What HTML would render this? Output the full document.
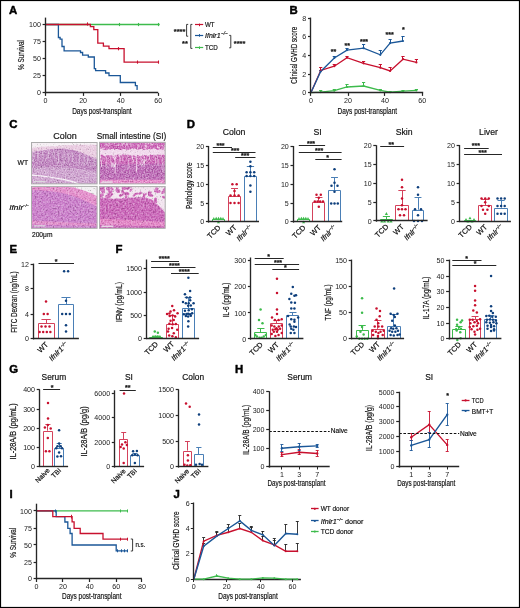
<!DOCTYPE html>
<html><head><meta charset="utf-8"><style>
html,body{margin:0;padding:0;background:#fff;}
svg{display:block;font-family:"Liberation Sans", sans-serif;will-change:transform;}
text{stroke:#111;stroke-width:0.18px;paint-order:stroke;}
text.tk{stroke:none;fill:#222;}
</style></head><body>
<svg width="520" height="608" viewBox="0 0 520 608">
<rect x="0.50" y="0.50" width="519.00" height="607.00" fill="#fff" stroke="#000" stroke-width="1.2" />
<text x="9.00" y="14.30" font-size="11.4" font-weight="bold" fill="#000" style="stroke:#000;stroke-width:0.45px;stroke-linejoin:round">A</text>
<polyline points="45.60,24.52 159.72,24.52" fill="none" stroke="#3dbb4c" stroke-width="1.3" stroke-linejoin="miter" />
<line x1="119.50" y1="22.92" x2="119.50" y2="26.12" stroke="#3dbb4c" stroke-width="1.1" />
<line x1="138.50" y1="22.92" x2="138.50" y2="26.12" stroke="#3dbb4c" stroke-width="1.1" />
<line x1="158.50" y1="22.92" x2="158.50" y2="26.12" stroke="#3dbb4c" stroke-width="1.1" />
<polyline points="45.60,24.52 58.40,24.52 58.40,37.50 60.10,37.50 60.10,39.20 62.00,39.20 62.00,46.50 64.10,46.50 64.10,50.80 80.50,50.80 80.50,52.50 82.60,52.50 82.60,55.10 88.30,55.10 88.30,57.00 94.30,57.00 94.30,68.60 95.60,68.60 95.60,70.70 105.60,70.70 105.60,73.00 109.00,73.00 109.00,75.60 120.30,75.60 120.30,82.50 135.40,82.50 135.40,85.60 137.10,85.60 137.10,89.40 137.60,89.40" fill="none" stroke="#1b5798" stroke-width="1.3" stroke-linejoin="miter" />
<polyline points="45.60,24.52 90.40,24.52 90.40,26.60 93.80,26.60 93.80,29.70 97.80,29.70 97.80,43.20 103.40,43.20 103.40,46.10 109.00,46.10 109.00,48.70 124.10,48.70 124.10,62.10 158.40,62.10" fill="none" stroke="#c8102e" stroke-width="1.3" stroke-linejoin="miter" />
<line x1="87.50" y1="22.40" x2="87.50" y2="25.60" stroke="#c8102e" stroke-width="1.1" />
<line x1="118.50" y1="47.10" x2="118.50" y2="50.30" stroke="#c8102e" stroke-width="1.1" />
<line x1="137.50" y1="60.50" x2="137.50" y2="63.70" stroke="#c8102e" stroke-width="1.1" />
<line x1="158.50" y1="60.50" x2="158.50" y2="63.70" stroke="#c8102e" stroke-width="1.1" />
<line x1="45.50" y1="17.60" x2="45.50" y2="93.27" stroke="#262626" stroke-width="1.35" />
<line x1="42.60" y1="24.50" x2="45.60" y2="24.50" stroke="#262626" stroke-width="1.215" />
<text x="40.90" y="26.76" font-size="7.1" text-anchor="end" fill="#111111" class="tk">100</text>
<line x1="42.60" y1="41.50" x2="45.60" y2="41.50" stroke="#262626" stroke-width="1.215" />
<text x="40.90" y="43.86" font-size="7.1" text-anchor="end" fill="#111111" class="tk">75</text>
<line x1="42.60" y1="58.50" x2="45.60" y2="58.50" stroke="#262626" stroke-width="1.215" />
<text x="40.90" y="60.86" font-size="7.1" text-anchor="end" fill="#111111" class="tk">50</text>
<line x1="42.60" y1="75.50" x2="45.60" y2="75.50" stroke="#262626" stroke-width="1.215" />
<text x="40.90" y="78.16" font-size="7.1" text-anchor="end" fill="#111111" class="tk">25</text>
<line x1="42.60" y1="92.50" x2="45.60" y2="92.50" stroke="#262626" stroke-width="1.215" />
<text x="40.90" y="95.16" font-size="7.1" text-anchor="end" fill="#111111" class="tk">0</text>
<line x1="44.93" y1="92.50" x2="158.20" y2="92.50" stroke="#262626" stroke-width="1.35" />
<line x1="45.50" y1="92.90" x2="45.50" y2="95.90" stroke="#262626" stroke-width="1.215" />
<text x="45.60" y="103.00" font-size="7.1" text-anchor="middle" fill="#111111" class="tk">0</text>
<line x1="83.50" y1="92.90" x2="83.50" y2="95.90" stroke="#262626" stroke-width="1.215" />
<text x="83.10" y="103.00" font-size="7.1" text-anchor="middle" fill="#111111" class="tk">20</text>
<line x1="120.50" y1="92.90" x2="120.50" y2="95.90" stroke="#262626" stroke-width="1.215" />
<text x="120.70" y="103.00" font-size="7.1" text-anchor="middle" fill="#111111" class="tk">40</text>
<line x1="158.50" y1="92.90" x2="158.50" y2="95.90" stroke="#262626" stroke-width="1.215" />
<text x="158.20" y="103.00" font-size="7.1" text-anchor="middle" fill="#111111" class="tk">60</text>
<text x="101.90" y="113.50" font-size="8.6" text-anchor="middle" fill="#111111" textLength="59.5" lengthAdjust="spacingAndGlyphs">Days post-transplant</text>
<text x="24.20" y="55.00" font-size="9.243" text-anchor="middle" fill="#111111" textLength="30" lengthAdjust="spacingAndGlyphs" transform="rotate(-90 24.20 55.00)">% Survival</text>
<text x="179.60" y="33.80" font-size="7.4" text-anchor="middle" fill="#111111" font-weight="bold">****</text>
<text x="185.00" y="45.60" font-size="7.4" text-anchor="middle" fill="#111111" font-weight="bold">**</text>
<polyline points="188.20,24.40 186.60,24.40 186.60,36.20 188.20,36.20" fill="none" stroke="#262626" stroke-width="0.9" stroke-linejoin="miter" />
<polyline points="192.40,24.40 190.80,24.40 190.80,48.40 192.40,48.40" fill="none" stroke="#262626" stroke-width="0.9" stroke-linejoin="miter" />
<polyline points="229.20,35.40 230.80,35.40 230.80,47.80 229.20,47.80" fill="none" stroke="#262626" stroke-width="0.9" stroke-linejoin="miter" />
<text x="239.60" y="46.10" font-size="7.4" text-anchor="middle" fill="#111111" font-weight="bold">****</text>
<line x1="195.00" y1="24.50" x2="203.20" y2="24.50" stroke="#c8102e" stroke-width="1.2" />
<line x1="199.50" y1="23.60" x2="199.50" y2="26.20" stroke="#c8102e" stroke-width="1.0" />
<line x1="195.00" y1="35.50" x2="203.20" y2="35.50" stroke="#1b5798" stroke-width="1.2" />
<line x1="199.50" y1="34.10" x2="199.50" y2="36.70" stroke="#1b5798" stroke-width="1.0" />
<line x1="195.00" y1="47.50" x2="203.20" y2="47.50" stroke="#3dbb4c" stroke-width="1.2" />
<line x1="199.50" y1="46.40" x2="199.50" y2="49.00" stroke="#3dbb4c" stroke-width="1.0" />
<text x="205.00" y="27.40" font-size="7.2" text-anchor="start" fill="#111111" textLength="9.6" lengthAdjust="spacingAndGlyphs">WT</text>
<text x="205.00" y="37.90" font-size="7.2" text-anchor="start" fill="#111111" font-style="italic" textLength="15.6" lengthAdjust="spacingAndGlyphs">Ifnlr1</text>
<text x="221.20" y="34.60" font-size="4.6" text-anchor="start" fill="#111111" font-style="italic">−/−</text>
<text x="205.00" y="50.20" font-size="7.2" text-anchor="start" fill="#111111" textLength="12.8" lengthAdjust="spacingAndGlyphs">TCD</text>
<text x="289.60" y="14.30" font-size="11.4" font-weight="bold" fill="#000" style="stroke:#000;stroke-width:0.45px;stroke-linejoin:round">B</text>
<line x1="320.50" y1="92.10" x2="320.50" y2="91.00" stroke="#3dbb4c" stroke-width="1.0" />
<line x1="319.10" y1="90.50" x2="322.30" y2="90.50" stroke="#3dbb4c" stroke-width="1.0" />
<line x1="334.50" y1="90.70" x2="334.50" y2="89.30" stroke="#3dbb4c" stroke-width="1.0" />
<line x1="332.70" y1="89.50" x2="335.90" y2="89.50" stroke="#3dbb4c" stroke-width="1.0" />
<line x1="346.50" y1="87.00" x2="346.50" y2="84.80" stroke="#3dbb4c" stroke-width="1.0" />
<line x1="345.40" y1="84.50" x2="348.60" y2="84.50" stroke="#3dbb4c" stroke-width="1.0" />
<line x1="363.50" y1="86.00" x2="363.50" y2="82.80" stroke="#3dbb4c" stroke-width="1.0" />
<line x1="362.00" y1="82.50" x2="365.20" y2="82.50" stroke="#3dbb4c" stroke-width="1.0" />
<line x1="380.50" y1="90.40" x2="380.50" y2="89.20" stroke="#3dbb4c" stroke-width="1.0" />
<line x1="378.70" y1="89.50" x2="381.90" y2="89.50" stroke="#3dbb4c" stroke-width="1.0" />
<line x1="390.50" y1="92.20" x2="390.50" y2="91.80" stroke="#3dbb4c" stroke-width="1.0" />
<line x1="388.50" y1="91.50" x2="391.70" y2="91.50" stroke="#3dbb4c" stroke-width="1.0" />
<line x1="402.50" y1="91.10" x2="402.50" y2="90.00" stroke="#3dbb4c" stroke-width="1.0" />
<line x1="401.40" y1="90.50" x2="404.60" y2="90.50" stroke="#3dbb4c" stroke-width="1.0" />
<line x1="416.50" y1="90.40" x2="416.50" y2="89.30" stroke="#3dbb4c" stroke-width="1.0" />
<line x1="414.80" y1="89.50" x2="418.00" y2="89.50" stroke="#3dbb4c" stroke-width="1.0" />
<line x1="320.50" y1="70.50" x2="320.50" y2="67.20" stroke="#c8102e" stroke-width="1.0" />
<line x1="319.10" y1="67.50" x2="322.30" y2="67.50" stroke="#c8102e" stroke-width="1.0" />
<line x1="334.50" y1="66.20" x2="334.50" y2="64.50" stroke="#c8102e" stroke-width="1.0" />
<line x1="332.70" y1="64.50" x2="335.90" y2="64.50" stroke="#c8102e" stroke-width="1.0" />
<line x1="346.50" y1="57.70" x2="346.50" y2="56.00" stroke="#c8102e" stroke-width="1.0" />
<line x1="345.40" y1="56.50" x2="348.60" y2="56.50" stroke="#c8102e" stroke-width="1.0" />
<line x1="363.50" y1="63.30" x2="363.50" y2="61.40" stroke="#c8102e" stroke-width="1.0" />
<line x1="362.00" y1="61.50" x2="365.20" y2="61.50" stroke="#c8102e" stroke-width="1.0" />
<line x1="380.50" y1="67.70" x2="380.50" y2="64.30" stroke="#c8102e" stroke-width="1.0" />
<line x1="378.70" y1="64.50" x2="381.90" y2="64.50" stroke="#c8102e" stroke-width="1.0" />
<line x1="390.50" y1="70.90" x2="390.50" y2="67.10" stroke="#c8102e" stroke-width="1.0" />
<line x1="388.50" y1="67.50" x2="391.70" y2="67.50" stroke="#c8102e" stroke-width="1.0" />
<line x1="402.50" y1="59.20" x2="402.50" y2="56.70" stroke="#c8102e" stroke-width="1.0" />
<line x1="401.40" y1="56.50" x2="404.60" y2="56.50" stroke="#c8102e" stroke-width="1.0" />
<line x1="416.50" y1="62.40" x2="416.50" y2="59.20" stroke="#c8102e" stroke-width="1.0" />
<line x1="414.80" y1="59.50" x2="418.00" y2="59.50" stroke="#c8102e" stroke-width="1.0" />
<line x1="320.50" y1="71.50" x2="320.50" y2="70.00" stroke="#1b5798" stroke-width="1.0" />
<line x1="319.10" y1="70.50" x2="322.30" y2="70.50" stroke="#1b5798" stroke-width="1.0" />
<line x1="334.50" y1="58.00" x2="334.50" y2="56.30" stroke="#1b5798" stroke-width="1.0" />
<line x1="332.70" y1="56.50" x2="335.90" y2="56.50" stroke="#1b5798" stroke-width="1.0" />
<line x1="346.50" y1="50.10" x2="346.50" y2="48.20" stroke="#1b5798" stroke-width="1.0" />
<line x1="345.40" y1="48.50" x2="348.60" y2="48.50" stroke="#1b5798" stroke-width="1.0" />
<line x1="363.50" y1="48.20" x2="363.50" y2="44.80" stroke="#1b5798" stroke-width="1.0" />
<line x1="362.00" y1="44.50" x2="365.20" y2="44.50" stroke="#1b5798" stroke-width="1.0" />
<line x1="380.50" y1="54.80" x2="380.50" y2="50.10" stroke="#1b5798" stroke-width="1.0" />
<line x1="378.70" y1="50.50" x2="381.90" y2="50.50" stroke="#1b5798" stroke-width="1.0" />
<line x1="390.50" y1="43.10" x2="390.50" y2="39.70" stroke="#1b5798" stroke-width="1.0" />
<line x1="388.50" y1="39.50" x2="391.70" y2="39.50" stroke="#1b5798" stroke-width="1.0" />
<line x1="402.50" y1="41.00" x2="402.50" y2="36.30" stroke="#1b5798" stroke-width="1.0" />
<line x1="401.40" y1="36.50" x2="404.60" y2="36.50" stroke="#1b5798" stroke-width="1.0" />
<polyline points="311.00,92.60 320.70,92.10 334.30,90.70 347.00,87.00 363.60,86.00 380.30,90.40 390.10,92.20 403.00,91.10 416.40,90.40" fill="none" stroke="#3dbb4c" stroke-width="1.3" stroke-linejoin="miter" />
<polyline points="311.00,92.60 320.70,70.50 334.30,66.20 347.00,57.70 363.60,63.30 380.30,67.70 390.10,70.90 403.00,59.20 416.40,62.40" fill="none" stroke="#c8102e" stroke-width="1.3" stroke-linejoin="miter" />
<polyline points="311.00,92.60 320.70,71.50 334.30,58.00 347.00,50.10 363.60,48.20 380.30,54.80 390.10,43.10 403.00,41.00" fill="none" stroke="#1b5798" stroke-width="1.3" stroke-linejoin="miter" />
<circle cx="320.70" cy="92.10" r="1.1" fill="#3dbb4c"/>
<circle cx="334.30" cy="90.70" r="1.1" fill="#3dbb4c"/>
<circle cx="347.00" cy="87.00" r="1.1" fill="#3dbb4c"/>
<circle cx="363.60" cy="86.00" r="1.1" fill="#3dbb4c"/>
<circle cx="380.30" cy="90.40" r="1.1" fill="#3dbb4c"/>
<circle cx="390.10" cy="92.20" r="1.1" fill="#3dbb4c"/>
<circle cx="403.00" cy="91.10" r="1.1" fill="#3dbb4c"/>
<circle cx="416.40" cy="90.40" r="1.1" fill="#3dbb4c"/>
<circle cx="320.70" cy="70.50" r="1.1" fill="#c8102e"/>
<circle cx="334.30" cy="66.20" r="1.1" fill="#c8102e"/>
<circle cx="347.00" cy="57.70" r="1.1" fill="#c8102e"/>
<circle cx="363.60" cy="63.30" r="1.1" fill="#c8102e"/>
<circle cx="380.30" cy="67.70" r="1.1" fill="#c8102e"/>
<circle cx="390.10" cy="70.90" r="1.1" fill="#c8102e"/>
<circle cx="403.00" cy="59.20" r="1.1" fill="#c8102e"/>
<circle cx="416.40" cy="62.40" r="1.1" fill="#c8102e"/>
<circle cx="320.70" cy="71.50" r="1.1" fill="#1b5798"/>
<circle cx="334.30" cy="58.00" r="1.1" fill="#1b5798"/>
<circle cx="347.00" cy="50.10" r="1.1" fill="#1b5798"/>
<circle cx="363.60" cy="48.20" r="1.1" fill="#1b5798"/>
<circle cx="380.30" cy="54.80" r="1.1" fill="#1b5798"/>
<circle cx="390.10" cy="43.10" r="1.1" fill="#1b5798"/>
<circle cx="403.00" cy="41.00" r="1.1" fill="#1b5798"/>
<line x1="310.50" y1="17.60" x2="310.50" y2="93.27" stroke="#262626" stroke-width="1.35" />
<line x1="308.00" y1="18.50" x2="311.00" y2="18.50" stroke="#262626" stroke-width="1.215" />
<text x="306.30" y="20.56" font-size="7.1" text-anchor="end" fill="#111111" class="tk">8</text>
<line x1="308.00" y1="36.50" x2="311.00" y2="36.50" stroke="#262626" stroke-width="1.215" />
<text x="306.30" y="39.16" font-size="7.1" text-anchor="end" fill="#111111" class="tk">6</text>
<line x1="308.00" y1="55.50" x2="311.00" y2="55.50" stroke="#262626" stroke-width="1.215" />
<text x="306.30" y="57.96" font-size="7.1" text-anchor="end" fill="#111111" class="tk">4</text>
<line x1="308.00" y1="74.50" x2="311.00" y2="74.50" stroke="#262626" stroke-width="1.215" />
<text x="306.30" y="76.66" font-size="7.1" text-anchor="end" fill="#111111" class="tk">2</text>
<line x1="308.00" y1="92.50" x2="311.00" y2="92.50" stroke="#262626" stroke-width="1.215" />
<text x="306.30" y="95.16" font-size="7.1" text-anchor="end" fill="#111111" class="tk">0</text>
<line x1="310.32" y1="92.50" x2="423.20" y2="92.50" stroke="#262626" stroke-width="1.35" />
<line x1="310.50" y1="92.90" x2="310.50" y2="95.90" stroke="#262626" stroke-width="1.215" />
<text x="311.00" y="103.00" font-size="7.1" text-anchor="middle" fill="#111111" class="tk">0</text>
<line x1="348.50" y1="92.90" x2="348.50" y2="95.90" stroke="#262626" stroke-width="1.215" />
<text x="348.00" y="103.00" font-size="7.1" text-anchor="middle" fill="#111111" class="tk">20</text>
<line x1="384.50" y1="92.90" x2="384.50" y2="95.90" stroke="#262626" stroke-width="1.215" />
<text x="385.00" y="103.00" font-size="7.1" text-anchor="middle" fill="#111111" class="tk">40</text>
<line x1="422.50" y1="92.90" x2="422.50" y2="95.90" stroke="#262626" stroke-width="1.215" />
<text x="422.20" y="103.00" font-size="7.1" text-anchor="middle" fill="#111111" class="tk">60</text>
<text x="367.30" y="113.50" font-size="8.6" text-anchor="middle" fill="#111111" textLength="59.5" lengthAdjust="spacingAndGlyphs">Days post-transplant</text>
<text x="297.00" y="55.30" font-size="9.594" text-anchor="middle" fill="#111111" textLength="57" lengthAdjust="spacingAndGlyphs" transform="rotate(-90 297.00 55.30)">Clinical GVHD score</text>
<text x="333.60" y="54.20" font-size="7.0" text-anchor="middle" fill="#111111" font-weight="bold">**</text>
<text x="347.20" y="47.60" font-size="7.0" text-anchor="middle" fill="#111111" font-weight="bold">**</text>
<text x="364.00" y="43.70" font-size="7.0" text-anchor="middle" fill="#111111" font-weight="bold">***</text>
<text x="389.70" y="37.40" font-size="7.0" text-anchor="middle" fill="#111111" font-weight="bold">***</text>
<text x="403.30" y="32.40" font-size="7.0" text-anchor="middle" fill="#111111" font-weight="bold">*</text>
<text x="9.20" y="128.10" font-size="11.4" font-weight="bold" fill="#000" style="stroke:#000;stroke-width:0.45px;stroke-linejoin:round">C</text>
<text x="65.00" y="139.20" font-size="9.2" text-anchor="middle" fill="#111111" textLength="23.5" lengthAdjust="spacingAndGlyphs">Colon</text>
<text x="131.50" y="139.20" font-size="9.2" text-anchor="middle" fill="#111111" textLength="69.5" lengthAdjust="spacingAndGlyphs">Small intestine (SI)</text>
<text x="28.20" y="165.00" font-size="7.2" text-anchor="end" fill="#111111" textLength="10.6" lengthAdjust="spacingAndGlyphs">WT</text>
<text x="23.20" y="209.80" font-size="7.2" text-anchor="end" fill="#111111" font-style="italic" textLength="14" lengthAdjust="spacingAndGlyphs">Ifnlr</text>
<text x="23.00" y="206.60" font-size="4.2" text-anchor="start" fill="#111111" font-style="italic">−/−</text>
<text x="32.00" y="237.20" font-size="7.2" text-anchor="start" fill="#111111" textLength="20.4" lengthAdjust="spacingAndGlyphs">200μm</text>
<defs>
<filter id="tx1" x="0" y="0" width="100%" height="100%" color-interpolation-filters="sRGB">
<feTurbulence type="fractalNoise" baseFrequency="0.75" numOctaves="2" seed="3" result="t"/>
<feColorMatrix in="t" type="matrix" values="0.55 0 0 0 0.3  0.55 0 0 0 0.3  0.55 0 0 0 0.3  0 0 0 0 1" result="n"/>
<feBlend in="SourceGraphic" in2="n" mode="overlay" result="b"/>
<feComposite in="b" in2="SourceGraphic" operator="in"/>
</filter>
<filter id="tx2" x="0" y="0" width="100%" height="100%" color-interpolation-filters="sRGB">
<feTurbulence type="fractalNoise" baseFrequency="0.6" numOctaves="2" seed="9" result="t"/>
<feColorMatrix in="t" type="matrix" values="0.5 0 0 0 0.3  0.5 0 0 0 0.3  0.5 0 0 0 0.3  0 0 0 0 1" result="n"/>
<feBlend in="SourceGraphic" in2="n" mode="overlay" result="b"/>
<feComposite in="b" in2="SourceGraphic" operator="in"/>
</filter>
<clipPath id="c1"><rect x="31.5" y="142.5" width="65.6" height="41.4"/></clipPath>
<clipPath id="c2"><rect x="31.5" y="186.4" width="65.6" height="41.9"/></clipPath>
<clipPath id="c3"><rect x="99.5" y="142.3" width="65.7" height="41.6"/></clipPath>
<clipPath id="c4"><rect x="99.5" y="186.6" width="65.7" height="41.7"/></clipPath>
</defs>
<g clip-path="url(#c1)"><g filter="url(#tx1)">
<rect x="31.00" y="142.00" width="67.00" height="43.00" fill="#c898c9" stroke="none" stroke-width="1.0" />
<path d="M31,152 C40,151 50,149 60,148.5 C70,148.5 78,151 86,154.5 C91,156.5 95,158 98,159 V172 C80,168 60,166 31,168 Z" fill="#b878b8"/>
<path d="M31,142 H98 V159 C95,158 91,156.5 86,154.5 C78,151 70,148.5 60,148.5 C50,149 40,151 31,152 Z" fill="#e6c5dd"/>
<path d="M31,142 H98 V145 C85,144.5 70,145 55,146 C45,146.5 38,147 31,148 Z" fill="#f3ecf1"/>
<path d="M33.6,150.9 L32.9,162.2" stroke="#eedcee" stroke-width="0.7" opacity="0.7"/>
<path d="M38.0,150.7 L38.0,160.5" stroke="#eedcee" stroke-width="0.7" opacity="0.7"/>
<path d="M42.9,150.4 L43.0,158.6" stroke="#eedcee" stroke-width="0.7" opacity="0.7"/>
<path d="M48.8,150.3 L48.0,158.7" stroke="#eedcee" stroke-width="0.7" opacity="0.7"/>
<path d="M53.8,150.3 L54.5,158.9" stroke="#eedcee" stroke-width="0.7" opacity="0.7"/>
<path d="M58.3,150.5 L58.6,163.2" stroke="#eedcee" stroke-width="0.7" opacity="0.7"/>
<path d="M64.2,150.9 L64.0,163.8" stroke="#eedcee" stroke-width="0.7" opacity="0.7"/>
<path d="M67.9,151.3 L68.6,160.8" stroke="#eedcee" stroke-width="0.7" opacity="0.7"/>
<path d="M73.1,152.1 L72.4,161.6" stroke="#eedcee" stroke-width="0.7" opacity="0.7"/>
<path d="M79.8,153.3 L79.1,164.3" stroke="#eedcee" stroke-width="0.7" opacity="0.7"/>
<path d="M84.3,154.4 L84.1,165.1" stroke="#eedcee" stroke-width="0.7" opacity="0.7"/>
<path d="M88.0,155.2 L87.1,164.3" stroke="#eedcee" stroke-width="0.7" opacity="0.7"/>
<path d="M94.4,156.9 L94.3,166.4" stroke="#eedcee" stroke-width="0.7" opacity="0.7"/>
<path d="M31,175.2 C45,176.2 60,178.2 74,182.2 L80,184.5" fill="none" stroke="#f6eef6" stroke-width="1.3"/>
</g>
<rect x="33.50" y="181.00" width="12.00" height="1.30" fill="#dcd6de" stroke="none" stroke-width="1.0" />
</g>
<rect x="31.50" y="142.50" width="65.60" height="41.40" fill="none" stroke="#acacac" stroke-width="1" />
<g clip-path="url(#c2)"><g filter="url(#tx2)">
<rect x="31.00" y="186.00" width="67.00" height="43.00" fill="#c676c6" stroke="none" stroke-width="1.0" />
<path d="M31,186 H98 V207 C90,203 80,198 70,195 C60,192 48,190.5 31,190 Z" fill="#e288c8"/>
<path d="M69,186 H98 V196.5 C90,192.5 80,188.5 69,186 Z" fill="#f1eef1"/>
<path d="M31,220.5 C50,221.5 70,222.5 98,223.5 V226 C70,225.5 50,225 31,224.5 Z" fill="#dc86c6"/>
</g>
<rect x="33.50" y="225.20" width="12.00" height="1.30" fill="#dcd6de" stroke="none" stroke-width="1.0" />
</g>
<rect x="31.50" y="186.40" width="65.60" height="41.90" fill="none" stroke="#acacac" stroke-width="1" />
<g clip-path="url(#c3)"><g filter="url(#tx1)">
<rect x="99.00" y="142.00" width="67.00" height="43.00" fill="#c456ae" stroke="none" stroke-width="1.0" />
<path d="M99,164 C120,165 145,163 166,164 V181 H99 Z" fill="#b55cae"/>
<ellipse cx="138.2" cy="145.2" rx="0.8" ry="0.9" fill="#eab8de"/>
<ellipse cx="145.8" cy="143.7" rx="1.0" ry="0.8" fill="#eab8de"/>
<ellipse cx="157.6" cy="147.1" rx="0.8" ry="1.0" fill="#eab8de"/>
<ellipse cx="106.9" cy="144.9" rx="1.1" ry="0.6" fill="#eab8de"/>
<ellipse cx="131.8" cy="142.3" rx="1.1" ry="0.9" fill="#eab8de"/>
<ellipse cx="137.4" cy="148.1" rx="0.8" ry="0.8" fill="#eab8de"/>
<ellipse cx="138.8" cy="146.1" rx="0.9" ry="0.9" fill="#eab8de"/>
<ellipse cx="162.3" cy="145.3" rx="1.1" ry="0.5" fill="#eab8de"/>
<ellipse cx="146.0" cy="146.5" rx="1.3" ry="0.9" fill="#eab8de"/>
<ellipse cx="118.1" cy="144.7" rx="1.1" ry="0.5" fill="#eab8de"/>
<ellipse cx="129.9" cy="143.2" rx="0.7" ry="0.5" fill="#eab8de"/>
<ellipse cx="150.5" cy="142.9" rx="0.8" ry="0.7" fill="#eab8de"/>
<ellipse cx="157.4" cy="142.6" rx="0.9" ry="0.8" fill="#eab8de"/>
<ellipse cx="158.2" cy="147.7" rx="1.2" ry="0.6" fill="#eab8de"/>
<ellipse cx="126.8" cy="144.5" rx="1.2" ry="1.0" fill="#eab8de"/>
<ellipse cx="109.1" cy="143.2" rx="0.8" ry="0.6" fill="#eab8de"/>
<ellipse cx="131.5" cy="146.1" rx="0.8" ry="0.5" fill="#eab8de"/>
<ellipse cx="127.1" cy="144.6" rx="1.0" ry="1.0" fill="#eab8de"/>
<ellipse cx="145.3" cy="145.6" rx="1.0" ry="0.8" fill="#eab8de"/>
<ellipse cx="102.6" cy="148.3" rx="1.1" ry="0.9" fill="#eab8de"/>
<ellipse cx="152.5" cy="144.7" rx="0.9" ry="0.6" fill="#eab8de"/>
<ellipse cx="141.5" cy="142.4" rx="0.6" ry="0.6" fill="#eab8de"/>
<ellipse cx="109.9" cy="144.4" rx="0.6" ry="0.5" fill="#eab8de"/>
<ellipse cx="109.1" cy="142.7" rx="0.9" ry="0.5" fill="#eab8de"/>
<ellipse cx="157.6" cy="146.3" rx="0.7" ry="0.6" fill="#eab8de"/>
<ellipse cx="122.3" cy="144.5" rx="0.7" ry="0.9" fill="#eab8de"/>
<ellipse cx="165.5" cy="145.3" rx="0.9" ry="0.5" fill="#eab8de"/>
<ellipse cx="105.8" cy="144.4" rx="0.8" ry="0.9" fill="#eab8de"/>
<ellipse cx="109.8" cy="142.2" rx="1.3" ry="0.8" fill="#eab8de"/>
<ellipse cx="108.8" cy="145.8" rx="0.6" ry="0.8" fill="#eab8de"/>
<ellipse cx="164.6" cy="148.0" rx="1.1" ry="0.6" fill="#eab8de"/>
<ellipse cx="123.6" cy="143.2" rx="1.1" ry="0.8" fill="#eab8de"/>
<ellipse cx="151.2" cy="144.3" rx="0.8" ry="0.9" fill="#eab8de"/>
<ellipse cx="165.0" cy="148.0" rx="1.2" ry="0.9" fill="#eab8de"/>
<ellipse cx="148.6" cy="143.6" rx="1.0" ry="0.7" fill="#eab8de"/>
<ellipse cx="100.9" cy="142.2" rx="0.8" ry="0.6" fill="#eab8de"/>
<ellipse cx="145.4" cy="148.7" rx="0.9" ry="1.0" fill="#eab8de"/>
<ellipse cx="165.2" cy="148.7" rx="0.9" ry="0.6" fill="#eab8de"/>
<ellipse cx="114.2" cy="143.4" rx="0.7" ry="0.8" fill="#eab8de"/>
<ellipse cx="159.3" cy="147.9" rx="0.9" ry="0.8" fill="#eab8de"/>
<path d="M99.0,149.7 L101.0,148.5 L103.0,149.5 L105.0,149.9 L107.0,149.7 L109.0,149.6 L111.0,149.2 L113.0,148.7 L115.0,149.7 L117.0,148.9 L119.0,149.7 L121.0,150.0 L123.0,149.0 L125.0,149.0 L127.0,149.9 L129.0,149.6 L131.0,148.7 L133.0,148.6 L135.0,148.6 L137.0,149.8 L139.0,149.7 L141.0,148.6 L143.0,149.7 L145.0,150.0 L147.0,149.5 L149.0,149.0 L151.0,149.3 L153.0,148.6 L155.0,148.4 L157.0,150.0 L159.0,149.4 L161.0,149.2 L163.0,149.9 L165.0,149.1 L167.0,149.8 L166.0,156.0 L164.0,154.7 L162.0,154.8 L160.0,154.8 L158.0,154.7 L156.0,155.5 L154.0,154.8 L152.0,155.1 L150.0,154.5 L148.0,156.2 L146.0,155.0 L144.0,155.2 L142.0,155.5 L140.0,156.2 L138.0,155.1 L136.0,156.2 L134.0,155.3 L132.0,155.4 L130.0,155.4 L128.0,154.2 L126.0,155.2 L124.0,154.6 L122.0,154.2 L120.0,156.0 L118.0,154.6 L116.0,155.2 L114.0,155.8 L112.0,155.4 L110.0,154.9 L108.0,155.3 L106.0,155.4 L104.0,155.9 L102.0,154.4 L100.0,155.4 L98.0,154.7 Z" fill="#efd4ea"/>
<path d="M99.9,155 L101.1,159.2 L101.6,167.1" fill="none" stroke="#f2dcee" stroke-width="0.9" opacity="0.85"/>
<path d="M105.5,155 L106.7,159.0 L106.7,168.6" fill="none" stroke="#f2dcee" stroke-width="0.7" opacity="0.85"/>
<path d="M109.5,155 L110.7,158.9 L111.6,167.5" fill="none" stroke="#f2dcee" stroke-width="0.7" opacity="0.85"/>
<path d="M113.9,155 L115.1,158.3 L115.2,173.2" fill="none" stroke="#f2dcee" stroke-width="0.9" opacity="0.85"/>
<path d="M118.8,155 L120.0,157.9 L119.9,161.9" fill="none" stroke="#f2dcee" stroke-width="0.9" opacity="0.85"/>
<path d="M121.4,155 L122.6,159.5 L123.2,161.0" fill="none" stroke="#f2dcee" stroke-width="0.6" opacity="0.85"/>
<path d="M127.5,155 L128.7,159.5 L128.0,170.0" fill="none" stroke="#f2dcee" stroke-width="0.6" opacity="0.85"/>
<path d="M131.9,155 L133.1,160.4 L132.9,163.1" fill="none" stroke="#f2dcee" stroke-width="1.0" opacity="0.85"/>
<path d="M135.5,155 L136.7,158.0 L136.5,171.7" fill="none" stroke="#f2dcee" stroke-width="1.0" opacity="0.85"/>
<path d="M139.9,155 L141.1,158.5 L141.6,162.7" fill="none" stroke="#f2dcee" stroke-width="0.7" opacity="0.85"/>
<path d="M143.3,155 L144.5,157.6 L144.2,166.2" fill="none" stroke="#f2dcee" stroke-width="0.8" opacity="0.85"/>
<path d="M148.9,155 L150.1,160.5 L150.7,160.9" fill="none" stroke="#f2dcee" stroke-width="0.8" opacity="0.85"/>
<path d="M154.0,155 L155.2,157.6 L155.8,163.7" fill="none" stroke="#f2dcee" stroke-width="0.6" opacity="0.85"/>
<path d="M157.0,155 L158.2,160.2 L158.9,165.9" fill="none" stroke="#f2dcee" stroke-width="0.6" opacity="0.85"/>
<path d="M161.4,155 L162.6,159.2 L163.0,172.9" fill="none" stroke="#f2dcee" stroke-width="0.6" opacity="0.85"/>
<path d="M112.5,155.5 L114.5,159.5 L116.5,155.5" fill="none" stroke="#f6eaf4" stroke-width="0.8"/>
<path d="M142.4,158.8 L144.4,162.8 L146.4,158.8" fill="none" stroke="#f6eaf4" stroke-width="0.8"/>
<path d="M111.6,163.4 L113.6,167.4 L115.6,163.4" fill="none" stroke="#f6eaf4" stroke-width="0.8"/>
<path d="M139.7,162.2 L141.7,166.2 L143.7,162.2" fill="none" stroke="#f6eaf4" stroke-width="0.8"/>
<path d="M112.2,162.7 L114.2,166.7 L116.2,162.7" fill="none" stroke="#f6eaf4" stroke-width="0.8"/>
<path d="M99,179.7 H166 V185 H99 Z" fill="#e27cc4"/>
</g>
<rect x="101.80" y="181.40" width="10.70" height="1.40" fill="#e8dfe8" stroke="none" stroke-width="1.0" />
</g>
<rect x="99.50" y="142.30" width="65.70" height="41.60" fill="none" stroke="#acacac" stroke-width="1" />
<g clip-path="url(#c4)"><g filter="url(#tx2)">
<rect x="99.00" y="186.00" width="67.00" height="43.00" fill="#c65eb4" stroke="none" stroke-width="1.0" />
<path d="M99,186 H166 V214 C161,207 155,201 147,198 C138,196 128,198 118,198.5 C110,199 104,198 99,197 Z" fill="#f1e2ee"/>
<ellipse cx="100.5" cy="195.5" rx="2.0" ry="1.2" fill="#c960b4" transform="rotate(5 100.5 195.5)"/>
<ellipse cx="159.2" cy="191.5" rx="1.5" ry="1.3" fill="#c960b4" transform="rotate(-26 159.2 191.5)"/>
<ellipse cx="102.0" cy="187.8" rx="1.4" ry="1.1" fill="#c960b4" transform="rotate(-19 102.0 187.8)"/>
<ellipse cx="111.7" cy="194.4" rx="1.7" ry="1.3" fill="#c960b4" transform="rotate(-32 111.7 194.4)"/>
<ellipse cx="114.2" cy="186.2" rx="1.7" ry="0.9" fill="#c960b4" transform="rotate(23 114.2 186.2)"/>
<ellipse cx="128.1" cy="188.1" rx="2.0" ry="1.6" fill="#c960b4" transform="rotate(-39 128.1 188.1)"/>
<ellipse cx="149.7" cy="192.8" rx="2.0" ry="1.6" fill="#c960b4" transform="rotate(-11 149.7 192.8)"/>
<ellipse cx="124.9" cy="193.6" rx="2.8" ry="1.2" fill="#c960b4" transform="rotate(33 124.9 193.6)"/>
<ellipse cx="140.2" cy="193.1" rx="1.9" ry="1.2" fill="#c960b4" transform="rotate(-45 140.2 193.1)"/>
<ellipse cx="102.8" cy="186.8" rx="2.4" ry="1.1" fill="#c960b4" transform="rotate(-34 102.8 186.8)"/>
<ellipse cx="101.1" cy="195.3" rx="2.6" ry="1.4" fill="#c960b4" transform="rotate(-22 101.1 195.3)"/>
<ellipse cx="108.2" cy="189.2" rx="2.0" ry="1.0" fill="#c960b4" transform="rotate(-5 108.2 189.2)"/>
<ellipse cx="109.3" cy="196.6" rx="2.8" ry="1.3" fill="#c960b4" transform="rotate(-26 109.3 196.6)"/>
<ellipse cx="162.8" cy="192.9" rx="1.8" ry="0.9" fill="#c960b4" transform="rotate(-12 162.8 192.9)"/>
<ellipse cx="122.6" cy="191.5" rx="1.6" ry="1.3" fill="#c960b4" transform="rotate(-50 122.6 191.5)"/>
<ellipse cx="109.4" cy="187.0" rx="1.9" ry="0.9" fill="#c960b4" transform="rotate(-48 109.4 187.0)"/>
<ellipse cx="111.7" cy="188.6" rx="2.2" ry="1.3" fill="#c960b4" transform="rotate(25 111.7 188.6)"/>
<ellipse cx="136.3" cy="193.9" rx="2.6" ry="1.2" fill="#c960b4" transform="rotate(-17 136.3 193.9)"/>
<ellipse cx="164.6" cy="189.5" rx="2.4" ry="1.4" fill="#c960b4" transform="rotate(-46 164.6 189.5)"/>
<ellipse cx="151.1" cy="200.8" rx="2.2" ry="1.5" fill="#c960b4" transform="rotate(31 151.1 200.8)"/>
<ellipse cx="103.2" cy="191.8" rx="2.1" ry="1.6" fill="#c960b4" transform="rotate(30 103.2 191.8)"/>
<ellipse cx="150.3" cy="195.4" rx="2.6" ry="1.4" fill="#c960b4" transform="rotate(19 150.3 195.4)"/>
<ellipse cx="107.6" cy="186.3" rx="1.5" ry="1.2" fill="#c960b4" transform="rotate(-40 107.6 186.3)"/>
<ellipse cx="151.1" cy="195.3" rx="2.2" ry="1.4" fill="#c960b4" transform="rotate(18 151.1 195.3)"/>
<ellipse cx="123.6" cy="186.0" rx="2.5" ry="1.5" fill="#c960b4" transform="rotate(0 123.6 186.0)"/>
<ellipse cx="126.9" cy="193.3" rx="1.4" ry="1.5" fill="#c960b4" transform="rotate(-25 126.9 193.3)"/>
<ellipse cx="100.8" cy="188.9" rx="2.4" ry="1.1" fill="#c960b4" transform="rotate(24 100.8 188.9)"/>
<ellipse cx="163.7" cy="197.3" rx="1.9" ry="1.3" fill="#c960b4" transform="rotate(18 163.7 197.3)"/>
<ellipse cx="145.2" cy="194.4" rx="2.3" ry="1.0" fill="#c960b4" transform="rotate(-35 145.2 194.4)"/>
<ellipse cx="108.8" cy="194.2" rx="1.8" ry="1.4" fill="#c960b4" transform="rotate(-49 108.8 194.2)"/>
<ellipse cx="100.3" cy="189.0" rx="2.3" ry="1.5" fill="#c960b4" transform="rotate(18 100.3 189.0)"/>
<ellipse cx="110.9" cy="191.7" rx="2.0" ry="1.3" fill="#c960b4" transform="rotate(-38 110.9 191.7)"/>
<ellipse cx="156.2" cy="189.8" rx="2.8" ry="1.6" fill="#c960b4" transform="rotate(-48 156.2 189.8)"/>
<ellipse cx="121.5" cy="195.0" rx="2.8" ry="1.3" fill="#c960b4" transform="rotate(-23 121.5 195.0)"/>
<ellipse cx="106.5" cy="196.4" rx="1.6" ry="1.4" fill="#c960b4" transform="rotate(-36 106.5 196.4)"/>
<ellipse cx="126.1" cy="196.5" rx="1.5" ry="1.6" fill="#c960b4" transform="rotate(1 126.1 196.5)"/>
<ellipse cx="155.6" cy="199.2" rx="1.6" ry="1.6" fill="#c960b4" transform="rotate(-1 155.6 199.2)"/>
<ellipse cx="99.4" cy="186.0" rx="2.0" ry="1.3" fill="#c960b4" transform="rotate(-20 99.4 186.0)"/>
<ellipse cx="103.3" cy="189.8" rx="1.8" ry="1.6" fill="#c960b4" transform="rotate(-50 103.3 189.8)"/>
<ellipse cx="143.8" cy="196.8" rx="1.5" ry="1.6" fill="#c960b4" transform="rotate(21 143.8 196.8)"/>
<ellipse cx="157.0" cy="191.6" rx="1.9" ry="1.2" fill="#c960b4" transform="rotate(50 157.0 191.6)"/>
<ellipse cx="130.9" cy="190.0" rx="1.9" ry="1.1" fill="#c960b4" transform="rotate(-45 130.9 190.0)"/>
<ellipse cx="101.7" cy="195.2" rx="1.7" ry="1.6" fill="#c960b4" transform="rotate(-25 101.7 195.2)"/>
<ellipse cx="109.5" cy="191.6" rx="1.6" ry="1.2" fill="#c960b4" transform="rotate(46 109.5 191.6)"/>
<ellipse cx="155.4" cy="201.2" rx="2.2" ry="1.6" fill="#c960b4" transform="rotate(44 155.4 201.2)"/>
<ellipse cx="128.0" cy="193.9" rx="1.4" ry="1.5" fill="#c960b4" transform="rotate(-5 128.0 193.9)"/>
<ellipse cx="144.0" cy="194.4" rx="1.7" ry="0.9" fill="#c960b4" transform="rotate(43 144.0 194.4)"/>
<ellipse cx="102.7" cy="191.2" rx="1.8" ry="1.1" fill="#c960b4" transform="rotate(24 102.7 191.2)"/>
<ellipse cx="163.8" cy="192.0" rx="2.3" ry="1.1" fill="#c960b4" transform="rotate(6 163.8 192.0)"/>
<ellipse cx="117.2" cy="187.8" rx="1.5" ry="1.1" fill="#c960b4" transform="rotate(41 117.2 187.8)"/>
<ellipse cx="124.2" cy="188.4" rx="2.7" ry="1.7" fill="#c960b4" transform="rotate(-5 124.2 188.4)"/>
<ellipse cx="103.3" cy="188.1" rx="1.4" ry="1.2" fill="#c960b4" transform="rotate(-41 103.3 188.1)"/>
<ellipse cx="108.0" cy="188.8" rx="2.2" ry="1.6" fill="#c960b4" transform="rotate(25 108.0 188.8)"/>
<ellipse cx="118.4" cy="190.6" rx="2.1" ry="1.2" fill="#c960b4" transform="rotate(-16 118.4 190.6)"/>
<ellipse cx="100.4" cy="189.1" rx="2.8" ry="1.0" fill="#c960b4" transform="rotate(0 100.4 189.1)"/>
<ellipse cx="134.1" cy="195.5" rx="1.6" ry="1.1" fill="#c960b4" transform="rotate(-25 134.1 195.5)"/>
<ellipse cx="117.6" cy="190.9" rx="2.7" ry="1.6" fill="#c960b4" transform="rotate(37 117.6 190.9)"/>
<ellipse cx="99.3" cy="186.4" rx="2.4" ry="1.6" fill="#c960b4" transform="rotate(-3 99.3 186.4)"/>
<ellipse cx="130.8" cy="186.0" rx="1.9" ry="1.6" fill="#c960b4" transform="rotate(33 130.8 186.0)"/>
<ellipse cx="152.8" cy="202.9" rx="1.7" ry="1.0" fill="#c960b4" transform="rotate(-35 152.8 202.9)"/>
<path d="M99,218.5 C120,219.5 140,220.5 166,222 V226.5 C140,226 120,225.5 99,225 Z" fill="#e07ec2"/>
</g>
<rect x="101.50" y="225.60" width="12.00" height="1.30" fill="#ece0ea" stroke="none" stroke-width="1.0" />
</g>
<rect x="99.50" y="186.60" width="65.70" height="41.70" fill="none" stroke="#acacac" stroke-width="1" />
<text x="186.80" y="127.80" font-size="11.4" font-weight="bold" fill="#000" style="stroke:#000;stroke-width:0.45px;stroke-linejoin:round">D</text>
<text x="234.10" y="135.00" font-size="8.7" text-anchor="middle" fill="#111111">Colon</text>
<path d="M212.50,221.90 V219.50 H224.50 V221.90" fill="none" stroke="#3dbb4c" stroke-width="1.0"/>
<path d="M212.25,219.91 L215.35,219.91 L213.80,217.12 Z" fill="#3dbb4c"/>
<path d="M214.65,219.53 L217.75,219.53 L216.20,216.74 Z" fill="#3dbb4c"/>
<path d="M216.95,219.53 L220.05,219.53 L218.50,216.74 Z" fill="#3dbb4c"/>
<path d="M219.25,219.53 L222.35,219.53 L220.80,216.74 Z" fill="#3dbb4c"/>
<path d="M221.45,219.91 L224.55,219.91 L223.00,217.12 Z" fill="#3dbb4c"/>
<path d="M216.95,223.30 L220.05,223.30 L218.50,220.50 Z" fill="#3dbb4c"/>
<line x1="234.50" y1="195.55" x2="234.50" y2="188.01" stroke="#d4425c" stroke-width="1.0" />
<line x1="231.07" y1="188.50" x2="238.03" y2="188.50" stroke="#d4425c" stroke-width="1.0" />
<path d="M228.50,221.90 V196.50 H240.50 V221.90" fill="none" stroke="#d4425c" stroke-width="1.0"/>
<circle cx="232.40" cy="184.25" r="1.25" fill="#c8102e"/>
<circle cx="236.70" cy="184.25" r="1.25" fill="#c8102e"/>
<circle cx="234.50" cy="191.03" r="1.25" fill="#c8102e"/>
<circle cx="230.50" cy="195.55" r="1.25" fill="#c8102e"/>
<circle cx="234.50" cy="195.55" r="1.25" fill="#c8102e"/>
<circle cx="238.60" cy="195.55" r="1.25" fill="#c8102e"/>
<circle cx="230.50" cy="203.07" r="1.25" fill="#c8102e"/>
<circle cx="234.50" cy="203.07" r="1.25" fill="#c8102e"/>
<circle cx="238.60" cy="203.07" r="1.25" fill="#c8102e"/>
<line x1="250.50" y1="175.97" x2="250.50" y2="166.18" stroke="#4a7fb6" stroke-width="1.0" />
<line x1="246.80" y1="166.50" x2="254.09" y2="166.50" stroke="#4a7fb6" stroke-width="1.0" />
<path d="M244.50,221.90 V176.50 H256.50 V221.90" fill="none" stroke="#4a7fb6" stroke-width="1.0"/>
<circle cx="250.40" cy="161.66" r="1.25" fill="#0e3f7c"/>
<circle cx="250.40" cy="166.18" r="1.25" fill="#0e3f7c"/>
<circle cx="246.60" cy="172.20" r="1.25" fill="#0e3f7c"/>
<circle cx="250.40" cy="172.20" r="1.25" fill="#0e3f7c"/>
<circle cx="254.20" cy="172.20" r="1.25" fill="#0e3f7c"/>
<circle cx="246.60" cy="175.97" r="1.25" fill="#0e3f7c"/>
<circle cx="250.40" cy="175.97" r="1.25" fill="#0e3f7c"/>
<circle cx="254.20" cy="175.97" r="1.25" fill="#0e3f7c"/>
<circle cx="250.40" cy="185.38" r="1.25" fill="#0e3f7c"/>
<circle cx="250.40" cy="191.78" r="1.25" fill="#0e3f7c"/>
<line x1="208.50" y1="146.00" x2="208.50" y2="222.58" stroke="#262626" stroke-width="1.35" />
<line x1="205.90" y1="146.50" x2="208.90" y2="146.50" stroke="#262626" stroke-width="1.215" />
<text x="204.20" y="149.16" font-size="7.1" text-anchor="end" fill="#111111" class="tk">20</text>
<line x1="205.90" y1="165.50" x2="208.90" y2="165.50" stroke="#262626" stroke-width="1.215" />
<text x="204.20" y="167.98" font-size="7.1" text-anchor="end" fill="#111111" class="tk">15</text>
<line x1="205.90" y1="184.50" x2="208.90" y2="184.50" stroke="#262626" stroke-width="1.215" />
<text x="204.20" y="186.81" font-size="7.1" text-anchor="end" fill="#111111" class="tk">10</text>
<line x1="205.90" y1="203.50" x2="208.90" y2="203.50" stroke="#262626" stroke-width="1.215" />
<text x="204.20" y="205.63" font-size="7.1" text-anchor="end" fill="#111111" class="tk">5</text>
<line x1="205.90" y1="221.50" x2="208.90" y2="221.50" stroke="#262626" stroke-width="1.215" />
<text x="204.20" y="224.46" font-size="7.1" text-anchor="end" fill="#111111" class="tk">0</text>
<line x1="208.30" y1="221.50" x2="259.00" y2="221.50" stroke="#262626" stroke-width="1.4" />
<line x1="212.80" y1="147.50" x2="232.00" y2="147.50" stroke="#262626" stroke-width="1.0" />
<text x="220.50" y="147.50" font-size="7.0" text-anchor="middle" fill="#111111" font-weight="bold">***</text>
<line x1="212.80" y1="152.50" x2="255.50" y2="152.50" stroke="#262626" stroke-width="1.0" />
<text x="235.20" y="152.80" font-size="7.0" text-anchor="middle" fill="#111111" font-weight="bold">***</text>
<line x1="235.20" y1="157.50" x2="255.50" y2="157.50" stroke="#262626" stroke-width="1.0" />
<text x="245.20" y="158.20" font-size="7.0" text-anchor="middle" fill="#111111" font-weight="bold">***</text>
<text x="221.05" y="228.10" font-size="7.5" text-anchor="end" fill="#111111" transform="rotate(-45 221.05 228.10)">TCD</text>
<text x="237.15" y="228.10" font-size="7.5" text-anchor="end" fill="#111111" transform="rotate(-45 237.15 228.10)">WT</text>
<text x="253.05" y="228.10" font-size="7.5" text-anchor="end" fill="#111111" font-style="italic" transform="rotate(-45 253.05 228.10)">Ifnlr<tspan font-size="4.65" dy="-2.6">−/−</tspan></text>
<text x="191.60" y="185.70" font-size="9.594" text-anchor="middle" fill="#111111" textLength="46.5" lengthAdjust="spacingAndGlyphs" transform="rotate(-90 191.60 185.70)">Pathology score</text>
<text x="317.60" y="135.00" font-size="8.7" text-anchor="middle" fill="#111111">SI</text>
<path d="M297.50,221.90 V219.50 H309.50 V221.90" fill="none" stroke="#3dbb4c" stroke-width="1.0"/>
<path d="M297.45,219.91 L300.55,219.91 L299.00,217.12 Z" fill="#3dbb4c"/>
<path d="M299.85,219.53 L302.95,219.53 L301.40,216.74 Z" fill="#3dbb4c"/>
<path d="M302.05,219.53 L305.15,219.53 L303.60,216.74 Z" fill="#3dbb4c"/>
<path d="M304.25,219.53 L307.35,219.53 L305.80,216.74 Z" fill="#3dbb4c"/>
<path d="M306.45,219.91 L309.55,219.91 L308.00,217.12 Z" fill="#3dbb4c"/>
<path d="M302.05,223.30 L305.15,223.30 L303.60,220.50 Z" fill="#3dbb4c"/>
<line x1="318.50" y1="201.57" x2="318.50" y2="197.05" stroke="#d4425c" stroke-width="1.0" />
<line x1="315.34" y1="197.50" x2="322.46" y2="197.50" stroke="#d4425c" stroke-width="1.0" />
<path d="M312.50,221.90 V202.50 H324.50 V221.90" fill="none" stroke="#d4425c" stroke-width="1.0"/>
<circle cx="316.50" cy="194.79" r="1.25" fill="#c8102e"/>
<circle cx="320.80" cy="194.79" r="1.25" fill="#c8102e"/>
<circle cx="318.80" cy="197.80" r="1.25" fill="#c8102e"/>
<circle cx="314.80" cy="201.57" r="1.25" fill="#c8102e"/>
<circle cx="317.50" cy="201.57" r="1.25" fill="#c8102e"/>
<circle cx="320.20" cy="201.57" r="1.25" fill="#c8102e"/>
<circle cx="323.00" cy="201.57" r="1.25" fill="#c8102e"/>
<circle cx="318.80" cy="206.84" r="1.25" fill="#c8102e"/>
<line x1="334.50" y1="189.90" x2="334.50" y2="177.47" stroke="#4a7fb6" stroke-width="1.0" />
<line x1="331.04" y1="177.50" x2="337.96" y2="177.50" stroke="#4a7fb6" stroke-width="1.0" />
<path d="M328.50,221.90 V190.50 H340.50 V221.90" fill="none" stroke="#4a7fb6" stroke-width="1.0"/>
<circle cx="334.50" cy="169.19" r="1.25" fill="#0e3f7c"/>
<circle cx="334.50" cy="182.74" r="1.25" fill="#0e3f7c"/>
<circle cx="331.50" cy="185.76" r="1.25" fill="#0e3f7c"/>
<circle cx="337.50" cy="185.76" r="1.25" fill="#0e3f7c"/>
<circle cx="334.50" cy="191.78" r="1.25" fill="#0e3f7c"/>
<circle cx="331.20" cy="203.45" r="1.25" fill="#0e3f7c"/>
<circle cx="334.50" cy="203.45" r="1.25" fill="#0e3f7c"/>
<circle cx="337.80" cy="203.45" r="1.25" fill="#0e3f7c"/>
<line x1="293.50" y1="146.00" x2="293.50" y2="222.58" stroke="#262626" stroke-width="1.35" />
<line x1="290.50" y1="146.50" x2="293.50" y2="146.50" stroke="#262626" stroke-width="1.215" />
<text x="288.80" y="149.16" font-size="7.1" text-anchor="end" fill="#111111" class="tk">20</text>
<line x1="290.50" y1="165.50" x2="293.50" y2="165.50" stroke="#262626" stroke-width="1.215" />
<text x="288.80" y="167.98" font-size="7.1" text-anchor="end" fill="#111111" class="tk">15</text>
<line x1="290.50" y1="184.50" x2="293.50" y2="184.50" stroke="#262626" stroke-width="1.215" />
<text x="288.80" y="186.81" font-size="7.1" text-anchor="end" fill="#111111" class="tk">10</text>
<line x1="290.50" y1="203.50" x2="293.50" y2="203.50" stroke="#262626" stroke-width="1.215" />
<text x="288.80" y="205.63" font-size="7.1" text-anchor="end" fill="#111111" class="tk">5</text>
<line x1="290.50" y1="221.50" x2="293.50" y2="221.50" stroke="#262626" stroke-width="1.215" />
<text x="288.80" y="224.46" font-size="7.1" text-anchor="end" fill="#111111" class="tk">0</text>
<line x1="292.90" y1="221.50" x2="342.20" y2="221.50" stroke="#262626" stroke-width="1.4" />
<line x1="298.80" y1="145.50" x2="325.10" y2="145.50" stroke="#262626" stroke-width="1.0" />
<text x="311.00" y="145.60" font-size="7.0" text-anchor="middle" fill="#111111" font-weight="bold">***</text>
<line x1="298.80" y1="152.50" x2="341.60" y2="152.50" stroke="#262626" stroke-width="1.0" />
<text x="319.10" y="153.40" font-size="7.0" text-anchor="middle" fill="#111111" font-weight="bold">***</text>
<line x1="315.30" y1="159.50" x2="341.60" y2="159.50" stroke="#262626" stroke-width="1.0" />
<text x="327.70" y="159.90" font-size="7.0" text-anchor="middle" fill="#111111" font-weight="bold">*</text>
<text x="306.15" y="228.10" font-size="7.5" text-anchor="end" fill="#111111" transform="rotate(-45 306.15 228.10)">TCD</text>
<text x="321.50" y="228.10" font-size="7.5" text-anchor="end" fill="#111111" transform="rotate(-45 321.50 228.10)">WT</text>
<text x="337.10" y="228.10" font-size="7.5" text-anchor="end" fill="#111111" font-style="italic" transform="rotate(-45 337.10 228.10)">Ifnlr<tspan font-size="4.65" dy="-2.6">−/−</tspan></text>
<text x="404.10" y="135.00" font-size="8.7" text-anchor="middle" fill="#111111">Skin</text>
<line x1="386.50" y1="219.50" x2="386.50" y2="216.11" stroke="#3dbb4c" stroke-width="1.0" />
<line x1="382.84" y1="216.50" x2="389.96" y2="216.50" stroke="#3dbb4c" stroke-width="1.0" />
<path d="M380.50,221.00 V219.50 H392.50 V221.00" fill="none" stroke="#3dbb4c" stroke-width="1.0"/>
<path d="M384.85,214.88 L387.95,214.88 L386.40,212.08 Z" fill="#3dbb4c"/>
<path d="M380.25,222.40 L383.35,222.40 L381.80,219.60 Z" fill="#3dbb4c"/>
<path d="M382.95,222.40 L386.05,222.40 L384.50,219.60 Z" fill="#3dbb4c"/>
<path d="M386.65,222.40 L389.75,222.40 L388.20,219.60 Z" fill="#3dbb4c"/>
<path d="M389.45,222.40 L392.55,222.40 L391.00,219.60 Z" fill="#3dbb4c"/>
<line x1="402.50" y1="205.21" x2="402.50" y2="190.92" stroke="#d4425c" stroke-width="1.0" />
<line x1="398.33" y1="190.50" x2="405.67" y2="190.50" stroke="#d4425c" stroke-width="1.0" />
<path d="M395.50,221.00 V205.50 H408.50 V221.00" fill="none" stroke="#d4425c" stroke-width="1.0"/>
<circle cx="402.00" cy="179.64" r="1.25" fill="#c8102e"/>
<circle cx="402.00" cy="187.16" r="1.25" fill="#c8102e"/>
<circle cx="402.00" cy="198.44" r="1.25" fill="#c8102e"/>
<circle cx="398.50" cy="209.34" r="1.25" fill="#c8102e"/>
<circle cx="402.00" cy="209.34" r="1.25" fill="#c8102e"/>
<circle cx="405.50" cy="209.34" r="1.25" fill="#c8102e"/>
<circle cx="400.00" cy="215.36" r="1.25" fill="#c8102e"/>
<circle cx="404.00" cy="215.36" r="1.25" fill="#c8102e"/>
<circle cx="402.00" cy="205.21" r="1.25" fill="#c8102e"/>
<line x1="418.50" y1="209.72" x2="418.50" y2="197.31" stroke="#4a7fb6" stroke-width="1.0" />
<line x1="414.54" y1="197.50" x2="421.46" y2="197.50" stroke="#4a7fb6" stroke-width="1.0" />
<path d="M412.50,221.00 V210.50 H423.50 V221.00" fill="none" stroke="#4a7fb6" stroke-width="1.0"/>
<circle cx="418.00" cy="187.16" r="1.25" fill="#0e3f7c"/>
<circle cx="418.00" cy="194.68" r="1.25" fill="#0e3f7c"/>
<circle cx="415.00" cy="209.34" r="1.25" fill="#0e3f7c"/>
<circle cx="421.00" cy="209.34" r="1.25" fill="#0e3f7c"/>
<circle cx="418.00" cy="215.36" r="1.25" fill="#0e3f7c"/>
<circle cx="414.00" cy="221.00" r="1.25" fill="#0e3f7c"/>
<circle cx="418.00" cy="221.00" r="1.25" fill="#0e3f7c"/>
<circle cx="422.00" cy="221.00" r="1.25" fill="#0e3f7c"/>
<line x1="376.50" y1="145.20" x2="376.50" y2="221.68" stroke="#262626" stroke-width="1.35" />
<line x1="373.30" y1="145.50" x2="376.30" y2="145.50" stroke="#262626" stroke-width="1.215" />
<text x="371.60" y="148.36" font-size="7.1" text-anchor="end" fill="#111111" class="tk">20</text>
<line x1="373.30" y1="164.50" x2="376.30" y2="164.50" stroke="#262626" stroke-width="1.215" />
<text x="371.60" y="167.16" font-size="7.1" text-anchor="end" fill="#111111" class="tk">15</text>
<line x1="373.30" y1="183.50" x2="376.30" y2="183.50" stroke="#262626" stroke-width="1.215" />
<text x="371.60" y="185.96" font-size="7.1" text-anchor="end" fill="#111111" class="tk">10</text>
<line x1="373.30" y1="202.50" x2="376.30" y2="202.50" stroke="#262626" stroke-width="1.215" />
<text x="371.60" y="204.76" font-size="7.1" text-anchor="end" fill="#111111" class="tk">5</text>
<line x1="373.30" y1="220.50" x2="376.30" y2="220.50" stroke="#262626" stroke-width="1.215" />
<text x="371.60" y="223.56" font-size="7.1" text-anchor="end" fill="#111111" class="tk">0</text>
<line x1="375.70" y1="220.50" x2="427.60" y2="220.50" stroke="#262626" stroke-width="1.4" />
<line x1="380.20" y1="146.50" x2="404.10" y2="146.50" stroke="#262626" stroke-width="1.0" />
<text x="391.30" y="146.60" font-size="7.0" text-anchor="middle" fill="#111111" font-weight="bold">**</text>
<text x="389.00" y="227.20" font-size="7.5" text-anchor="end" fill="#111111" transform="rotate(-45 389.00 227.20)">TCD</text>
<text x="404.60" y="227.20" font-size="7.5" text-anchor="end" fill="#111111" transform="rotate(-45 404.60 227.20)">WT</text>
<text x="420.60" y="227.20" font-size="7.5" text-anchor="end" fill="#111111" font-style="italic" transform="rotate(-45 420.60 227.20)">Ifnlr<tspan font-size="4.65" dy="-2.6">−/−</tspan></text>
<text x="488.50" y="135.00" font-size="8.7" text-anchor="middle" fill="#111111">Liver</text>
<path d="M464.50,221.20 V220.50 H475.50 V221.20" fill="none" stroke="#3dbb4c" stroke-width="1.0"/>
<path d="M464.45,220.71 L467.55,220.71 L466.00,217.91 Z" fill="#3dbb4c"/>
<path d="M468.45,219.19 L471.55,219.19 L470.00,216.40 Z" fill="#3dbb4c"/>
<path d="M472.45,220.71 L475.55,220.71 L474.00,217.91 Z" fill="#3dbb4c"/>
<path d="M466.45,222.59 L469.55,222.59 L468.00,219.80 Z" fill="#3dbb4c"/>
<path d="M470.45,222.59 L473.55,222.59 L472.00,219.80 Z" fill="#3dbb4c"/>
<line x1="485.50" y1="205.32" x2="485.50" y2="199.28" stroke="#d4425c" stroke-width="1.0" />
<line x1="481.50" y1="199.50" x2="488.79" y2="199.50" stroke="#d4425c" stroke-width="1.0" />
<path d="M478.50,221.20 V205.50 H491.50 V221.20" fill="none" stroke="#d4425c" stroke-width="1.0"/>
<circle cx="481.50" cy="198.52" r="1.25" fill="#c8102e"/>
<circle cx="485.20" cy="198.52" r="1.25" fill="#c8102e"/>
<circle cx="488.80" cy="198.52" r="1.25" fill="#c8102e"/>
<circle cx="485.20" cy="202.30" r="1.25" fill="#c8102e"/>
<circle cx="481.50" cy="206.08" r="1.25" fill="#c8102e"/>
<circle cx="488.80" cy="206.08" r="1.25" fill="#c8102e"/>
<circle cx="483.00" cy="209.86" r="1.25" fill="#c8102e"/>
<circle cx="487.40" cy="209.86" r="1.25" fill="#c8102e"/>
<circle cx="485.20" cy="213.64" r="1.25" fill="#c8102e"/>
<line x1="501.50" y1="207.59" x2="501.50" y2="200.03" stroke="#4a7fb6" stroke-width="1.0" />
<line x1="497.54" y1="200.50" x2="504.66" y2="200.50" stroke="#4a7fb6" stroke-width="1.0" />
<path d="M494.50,221.20 V208.50 H507.50 V221.20" fill="none" stroke="#4a7fb6" stroke-width="1.0"/>
<circle cx="497.50" cy="198.52" r="1.25" fill="#0e3f7c"/>
<circle cx="501.10" cy="198.52" r="1.25" fill="#0e3f7c"/>
<circle cx="504.70" cy="198.52" r="1.25" fill="#0e3f7c"/>
<circle cx="497.50" cy="206.08" r="1.25" fill="#0e3f7c"/>
<circle cx="501.10" cy="206.08" r="1.25" fill="#0e3f7c"/>
<circle cx="504.70" cy="206.08" r="1.25" fill="#0e3f7c"/>
<circle cx="497.50" cy="213.64" r="1.25" fill="#0e3f7c"/>
<circle cx="501.10" cy="213.64" r="1.25" fill="#0e3f7c"/>
<circle cx="504.70" cy="213.64" r="1.25" fill="#0e3f7c"/>
<line x1="459.50" y1="145.00" x2="459.50" y2="221.88" stroke="#262626" stroke-width="1.35" />
<line x1="456.60" y1="145.50" x2="459.60" y2="145.50" stroke="#262626" stroke-width="1.215" />
<text x="454.90" y="148.16" font-size="7.1" text-anchor="end" fill="#111111" class="tk">20</text>
<line x1="456.60" y1="164.50" x2="459.60" y2="164.50" stroke="#262626" stroke-width="1.215" />
<text x="454.90" y="167.06" font-size="7.1" text-anchor="end" fill="#111111" class="tk">15</text>
<line x1="456.60" y1="183.50" x2="459.60" y2="183.50" stroke="#262626" stroke-width="1.215" />
<text x="454.90" y="185.96" font-size="7.1" text-anchor="end" fill="#111111" class="tk">10</text>
<line x1="456.60" y1="202.50" x2="459.60" y2="202.50" stroke="#262626" stroke-width="1.215" />
<text x="454.90" y="204.86" font-size="7.1" text-anchor="end" fill="#111111" class="tk">5</text>
<line x1="456.60" y1="221.50" x2="459.60" y2="221.50" stroke="#262626" stroke-width="1.215" />
<text x="454.90" y="223.76" font-size="7.1" text-anchor="end" fill="#111111" class="tk">0</text>
<line x1="459.00" y1="221.50" x2="510.90" y2="221.50" stroke="#262626" stroke-width="1.4" />
<line x1="464.10" y1="148.50" x2="488.70" y2="148.50" stroke="#262626" stroke-width="1.0" />
<text x="475.90" y="148.10" font-size="7.0" text-anchor="middle" fill="#111111" font-weight="bold">***</text>
<line x1="464.10" y1="154.50" x2="502.00" y2="154.50" stroke="#262626" stroke-width="1.0" />
<text x="482.70" y="154.50" font-size="7.0" text-anchor="middle" fill="#111111" font-weight="bold">***</text>
<text x="472.50" y="227.40" font-size="7.5" text-anchor="end" fill="#111111" transform="rotate(-45 472.50 227.40)">TCD</text>
<text x="487.75" y="227.40" font-size="7.5" text-anchor="end" fill="#111111" transform="rotate(-45 487.75 227.40)">WT</text>
<text x="503.70" y="227.40" font-size="7.5" text-anchor="end" fill="#111111" font-style="italic" transform="rotate(-45 503.70 227.40)">Ifnlr<tspan font-size="4.65" dy="-2.6">−/−</tspan></text>
<text x="9.60" y="252.70" font-size="11.4" font-weight="bold" fill="#000" style="stroke:#000;stroke-width:0.45px;stroke-linejoin:round">E</text>
<line x1="46.50" y1="323.15" x2="46.50" y2="319.42" stroke="#d4425c" stroke-width="1.0" />
<line x1="41.46" y1="319.50" x2="50.74" y2="319.50" stroke="#d4425c" stroke-width="1.0" />
<path d="M38.50,338.70 V323.50 H54.50 V338.70" fill="none" stroke="#d4425c" stroke-width="1.0"/>
<circle cx="46.00" cy="301.60" r="1.25" fill="#c8102e"/>
<circle cx="43.80" cy="314.00" r="1.25" fill="#c8102e"/>
<circle cx="47.60" cy="314.00" r="1.25" fill="#c8102e"/>
<circle cx="41.50" cy="326.50" r="1.25" fill="#c8102e"/>
<circle cx="45.50" cy="326.50" r="1.25" fill="#c8102e"/>
<circle cx="49.50" cy="326.50" r="1.25" fill="#c8102e"/>
<circle cx="39.60" cy="332.00" r="1.25" fill="#c8102e"/>
<circle cx="43.20" cy="332.00" r="1.25" fill="#c8102e"/>
<circle cx="46.80" cy="332.00" r="1.25" fill="#c8102e"/>
<circle cx="50.40" cy="332.00" r="1.25" fill="#c8102e"/>
<line x1="66.50" y1="304.49" x2="66.50" y2="297.03" stroke="#4a7fb6" stroke-width="1.0" />
<line x1="61.46" y1="297.50" x2="70.54" y2="297.50" stroke="#4a7fb6" stroke-width="1.0" />
<path d="M58.50,338.70 V304.50 H73.50 V338.70" fill="none" stroke="#4a7fb6" stroke-width="1.0"/>
<circle cx="64.10" cy="271.20" r="1.25" fill="#0e3f7c"/>
<circle cx="68.10" cy="271.20" r="1.25" fill="#0e3f7c"/>
<circle cx="66.00" cy="300.70" r="1.25" fill="#0e3f7c"/>
<circle cx="62.20" cy="314.00" r="1.25" fill="#0e3f7c"/>
<circle cx="66.00" cy="314.00" r="1.25" fill="#0e3f7c"/>
<circle cx="69.80" cy="314.00" r="1.25" fill="#0e3f7c"/>
<circle cx="66.00" cy="325.20" r="1.25" fill="#0e3f7c"/>
<circle cx="66.00" cy="331.60" r="1.25" fill="#0e3f7c"/>
<line x1="33.50" y1="263.60" x2="33.50" y2="339.38" stroke="#262626" stroke-width="1.35" />
<line x1="30.60" y1="264.50" x2="33.60" y2="264.50" stroke="#262626" stroke-width="1.215" />
<text x="28.90" y="266.66" font-size="7.1" text-anchor="end" fill="#111111" class="tk">12</text>
<line x1="30.60" y1="288.50" x2="33.60" y2="288.50" stroke="#262626" stroke-width="1.215" />
<text x="28.90" y="291.46" font-size="7.1" text-anchor="end" fill="#111111" class="tk">8</text>
<line x1="30.60" y1="314.50" x2="33.60" y2="314.50" stroke="#262626" stroke-width="1.215" />
<text x="28.90" y="316.56" font-size="7.1" text-anchor="end" fill="#111111" class="tk">4</text>
<line x1="30.60" y1="338.50" x2="33.60" y2="338.50" stroke="#262626" stroke-width="1.215" />
<text x="28.90" y="341.26" font-size="7.1" text-anchor="end" fill="#111111" class="tk">0</text>
<line x1="33.10" y1="338.50" x2="78.90" y2="338.50" stroke="#262626" stroke-width="1.3" />
<line x1="38.50" y1="263.50" x2="74.00" y2="263.50" stroke="#262626" stroke-width="1.0" />
<text x="56.20" y="263.50" font-size="7.0" text-anchor="middle" fill="#111111" font-weight="bold">*</text>
<text x="16.60" y="302.10" font-size="9.36" text-anchor="middle" fill="#111111" textLength="61.5" lengthAdjust="spacingAndGlyphs" transform="rotate(-90 16.60 302.10)">FITC Dextran (ng/mL)</text>
<text x="48.70" y="344.90" font-size="7.5" text-anchor="end" fill="#111111" transform="rotate(-45 48.70 344.90)">WT</text>
<text x="68.60" y="344.90" font-size="7.5" text-anchor="end" fill="#111111" font-style="italic" transform="rotate(-45 68.60 344.90)">Ifnlr1<tspan font-size="4.65" dy="-2.6">−/−</tspan></text>
<text x="115.40" y="252.90" font-size="11.4" font-weight="bold" fill="#000" style="stroke:#000;stroke-width:0.45px;stroke-linejoin:round">F</text>
<path d="M149.50,338.40 V337.50 H162.50 V338.40" fill="none" stroke="#3dbb4c" stroke-width="1.0"/>
<circle cx="154.78" cy="331.57" r="1.25" fill="#3dbb4c"/>
<circle cx="157.89" cy="332.72" r="1.25" fill="#3dbb4c"/>
<circle cx="153.06" cy="336.74" r="1.25" fill="#3dbb4c"/>
<circle cx="155.36" cy="336.51" r="1.25" fill="#3dbb4c"/>
<circle cx="157.66" cy="336.51" r="1.25" fill="#3dbb4c"/>
<circle cx="159.73" cy="336.74" r="1.25" fill="#3dbb4c"/>
<circle cx="156.51" cy="337.32" r="1.25" fill="#3dbb4c"/>
<line x1="172.50" y1="323.60" x2="172.50" y2="315.10" stroke="#d4425c" stroke-width="1.0" />
<line x1="168.67" y1="315.50" x2="175.63" y2="315.50" stroke="#d4425c" stroke-width="1.0" />
<path d="M166.50,338.40 V324.50 H178.50 V338.40" fill="none" stroke="#d4425c" stroke-width="1.0"/>
<circle cx="172.27" cy="305.90" r="1.25" fill="#c8102e"/>
<circle cx="170.55" cy="311.43" r="1.25" fill="#c8102e"/>
<circle cx="174.00" cy="310.28" r="1.25" fill="#c8102e"/>
<circle cx="167.09" cy="313.96" r="1.25" fill="#c8102e"/>
<circle cx="169.40" cy="313.50" r="1.25" fill="#c8102e"/>
<circle cx="177.57" cy="313.15" r="1.25" fill="#c8102e"/>
<circle cx="169.74" cy="316.03" r="1.25" fill="#c8102e"/>
<circle cx="172.62" cy="315.45" r="1.25" fill="#c8102e"/>
<circle cx="175.15" cy="316.61" r="1.25" fill="#c8102e"/>
<circle cx="170.55" cy="320.63" r="1.25" fill="#c8102e"/>
<circle cx="173.77" cy="320.06" r="1.25" fill="#c8102e"/>
<circle cx="169.40" cy="323.86" r="1.25" fill="#c8102e"/>
<circle cx="172.62" cy="324.32" r="1.25" fill="#c8102e"/>
<circle cx="175.84" cy="324.09" r="1.25" fill="#c8102e"/>
<circle cx="168.59" cy="328.69" r="1.25" fill="#c8102e"/>
<circle cx="172.04" cy="328.11" r="1.25" fill="#c8102e"/>
<circle cx="177.22" cy="329.84" r="1.25" fill="#c8102e"/>
<circle cx="168.01" cy="331.57" r="1.25" fill="#c8102e"/>
<circle cx="173.77" cy="333.29" r="1.25" fill="#c8102e"/>
<circle cx="169.17" cy="335.59" r="1.25" fill="#c8102e"/>
<circle cx="172.39" cy="336.17" r="1.25" fill="#c8102e"/>
<circle cx="175.84" cy="337.32" r="1.25" fill="#c8102e"/>
<line x1="188.50" y1="308.10" x2="188.50" y2="297.10" stroke="#4a7fb6" stroke-width="1.0" />
<line x1="184.66" y1="297.50" x2="191.84" y2="297.50" stroke="#4a7fb6" stroke-width="1.0" />
<path d="M182.50,338.40 V308.50 H194.50 V338.40" fill="none" stroke="#4a7fb6" stroke-width="1.0"/>
<circle cx="188.38" cy="277.83" r="1.25" fill="#0e3f7c"/>
<circle cx="190.11" cy="291.06" r="1.25" fill="#0e3f7c"/>
<circle cx="184.93" cy="294.17" r="1.25" fill="#0e3f7c"/>
<circle cx="186.66" cy="297.62" r="1.25" fill="#0e3f7c"/>
<circle cx="189.88" cy="297.39" r="1.25" fill="#0e3f7c"/>
<circle cx="190.11" cy="300.15" r="1.25" fill="#0e3f7c"/>
<circle cx="182.97" cy="301.99" r="1.25" fill="#0e3f7c"/>
<circle cx="185.85" cy="303.37" r="1.25" fill="#0e3f7c"/>
<circle cx="188.73" cy="303.37" r="1.25" fill="#0e3f7c"/>
<circle cx="193.56" cy="303.14" r="1.25" fill="#0e3f7c"/>
<circle cx="188.15" cy="305.67" r="1.25" fill="#0e3f7c"/>
<circle cx="190.80" cy="305.44" r="1.25" fill="#0e3f7c"/>
<circle cx="184.93" cy="310.85" r="1.25" fill="#0e3f7c"/>
<circle cx="188.73" cy="310.28" r="1.25" fill="#0e3f7c"/>
<circle cx="191.95" cy="309.13" r="1.25" fill="#0e3f7c"/>
<circle cx="183.90" cy="314.30" r="1.25" fill="#0e3f7c"/>
<circle cx="186.43" cy="313.96" r="1.25" fill="#0e3f7c"/>
<circle cx="188.15" cy="313.73" r="1.25" fill="#0e3f7c"/>
<circle cx="190.11" cy="314.30" r="1.25" fill="#0e3f7c"/>
<circle cx="192.18" cy="313.15" r="1.25" fill="#0e3f7c"/>
<circle cx="185.85" cy="316.03" r="1.25" fill="#0e3f7c"/>
<circle cx="188.15" cy="316.61" r="1.25" fill="#0e3f7c"/>
<circle cx="190.80" cy="315.80" r="1.25" fill="#0e3f7c"/>
<circle cx="188.38" cy="321.21" r="1.25" fill="#0e3f7c"/>
<circle cx="188.15" cy="326.62" r="1.25" fill="#0e3f7c"/>
<line x1="146.50" y1="259.50" x2="146.50" y2="339.07" stroke="#262626" stroke-width="1.35" />
<line x1="143.70" y1="268.50" x2="146.70" y2="268.50" stroke="#262626" stroke-width="1.215" />
<text x="142.00" y="271.16" font-size="7.1" text-anchor="end" fill="#111111" class="tk">1500</text>
<line x1="143.70" y1="292.50" x2="146.70" y2="292.50" stroke="#262626" stroke-width="1.215" />
<text x="142.00" y="294.86" font-size="7.1" text-anchor="end" fill="#111111" class="tk">1000</text>
<line x1="143.70" y1="315.50" x2="146.70" y2="315.50" stroke="#262626" stroke-width="1.215" />
<text x="142.00" y="318.06" font-size="7.1" text-anchor="end" fill="#111111" class="tk">500</text>
<line x1="143.70" y1="338.50" x2="146.70" y2="338.50" stroke="#262626" stroke-width="1.215" />
<text x="142.00" y="340.96" font-size="7.1" text-anchor="end" fill="#111111" class="tk">0</text>
<line x1="146.10" y1="338.50" x2="199.10" y2="338.50" stroke="#262626" stroke-width="1.4" />
<line x1="151.10" y1="261.50" x2="179.00" y2="261.50" stroke="#262626" stroke-width="1.0" />
<text x="164.20" y="261.40" font-size="7.0" text-anchor="middle" fill="#111111" font-weight="bold">****</text>
<line x1="151.10" y1="267.50" x2="195.50" y2="267.50" stroke="#262626" stroke-width="1.0" />
<text x="174.40" y="267.70" font-size="7.0" text-anchor="middle" fill="#111111" font-weight="bold">****</text>
<line x1="171.00" y1="273.50" x2="198.70" y2="273.50" stroke="#262626" stroke-width="1.0" />
<text x="184.30" y="274.00" font-size="7.0" text-anchor="middle" fill="#111111" font-weight="bold">****</text>
<text x="121.60" y="302.00" font-size="9.36" text-anchor="middle" fill="#111111" textLength="40" lengthAdjust="spacingAndGlyphs" transform="rotate(-90 121.60 302.00)">IFNγ (pg/mL)</text>
<text x="158.60" y="344.60" font-size="7.5" text-anchor="end" fill="#111111" transform="rotate(-45 158.60 344.60)">TCD</text>
<text x="174.75" y="344.60" font-size="7.5" text-anchor="end" fill="#111111" transform="rotate(-45 174.75 344.60)">WT</text>
<text x="190.85" y="344.60" font-size="7.5" text-anchor="end" fill="#111111" font-style="italic" transform="rotate(-45 190.85 344.60)">Ifnlr1<tspan font-size="4.65" dy="-2.6">−/−</tspan></text>
<line x1="260.50" y1="332.10" x2="260.50" y2="328.30" stroke="#3dbb4c" stroke-width="1.0" />
<line x1="257.26" y1="328.50" x2="264.44" y2="328.50" stroke="#3dbb4c" stroke-width="1.0" />
<path d="M254.50,339.00 V332.50 H266.50 V339.00" fill="none" stroke="#3dbb4c" stroke-width="1.0"/>
<circle cx="260.58" cy="309.40" r="1.25" fill="#3dbb4c"/>
<circle cx="258.99" cy="319.98" r="1.25" fill="#3dbb4c"/>
<circle cx="262.48" cy="323.37" r="1.25" fill="#3dbb4c"/>
<circle cx="255.29" cy="335.00" r="1.25" fill="#3dbb4c"/>
<circle cx="256.88" cy="336.59" r="1.25" fill="#3dbb4c"/>
<circle cx="259.52" cy="337.64" r="1.25" fill="#3dbb4c"/>
<circle cx="261.63" cy="337.64" r="1.25" fill="#3dbb4c"/>
<circle cx="263.75" cy="336.59" r="1.25" fill="#3dbb4c"/>
<circle cx="265.87" cy="335.00" r="1.25" fill="#3dbb4c"/>
<line x1="276.50" y1="323.10" x2="276.50" y2="320.80" stroke="#d4425c" stroke-width="1.0" />
<line x1="273.39" y1="320.50" x2="280.41" y2="320.50" stroke="#d4425c" stroke-width="1.0" />
<path d="M270.50,339.00 V323.50 H282.50 V339.00" fill="none" stroke="#d4425c" stroke-width="1.0"/>
<circle cx="276.97" cy="278.73" r="1.25" fill="#c8102e"/>
<circle cx="276.97" cy="293.01" r="1.25" fill="#c8102e"/>
<circle cx="276.97" cy="309.40" r="1.25" fill="#c8102e"/>
<circle cx="276.97" cy="314.06" r="1.25" fill="#c8102e"/>
<circle cx="272.00" cy="317.55" r="1.25" fill="#c8102e"/>
<circle cx="281.73" cy="319.13" r="1.25" fill="#c8102e"/>
<circle cx="274.86" cy="319.98" r="1.25" fill="#c8102e"/>
<circle cx="278.56" cy="319.98" r="1.25" fill="#c8102e"/>
<circle cx="271.68" cy="325.48" r="1.25" fill="#c8102e"/>
<circle cx="274.33" cy="326.54" r="1.25" fill="#c8102e"/>
<circle cx="276.44" cy="328.13" r="1.25" fill="#c8102e"/>
<circle cx="278.77" cy="326.54" r="1.25" fill="#c8102e"/>
<circle cx="281.73" cy="325.48" r="1.25" fill="#c8102e"/>
<circle cx="272.74" cy="329.71" r="1.25" fill="#c8102e"/>
<circle cx="275.38" cy="329.18" r="1.25" fill="#c8102e"/>
<circle cx="277.71" cy="329.71" r="1.25" fill="#c8102e"/>
<circle cx="280.14" cy="328.65" r="1.25" fill="#c8102e"/>
<circle cx="273.80" cy="331.83" r="1.25" fill="#c8102e"/>
<circle cx="276.97" cy="331.83" r="1.25" fill="#c8102e"/>
<circle cx="281.73" cy="332.88" r="1.25" fill="#c8102e"/>
<circle cx="271.68" cy="333.94" r="1.25" fill="#c8102e"/>
<circle cx="278.56" cy="335.00" r="1.25" fill="#c8102e"/>
<circle cx="275.38" cy="336.06" r="1.25" fill="#c8102e"/>
<line x1="292.50" y1="315.20" x2="292.50" y2="312.10" stroke="#4a7fb6" stroke-width="1.0" />
<line x1="289.49" y1="312.50" x2="296.51" y2="312.50" stroke="#4a7fb6" stroke-width="1.0" />
<path d="M286.50,339.00 V315.50 H298.50 V339.00" fill="none" stroke="#4a7fb6" stroke-width="1.0"/>
<circle cx="292.84" cy="286.88" r="1.25" fill="#0e3f7c"/>
<circle cx="291.25" cy="293.75" r="1.25" fill="#0e3f7c"/>
<circle cx="296.01" cy="295.34" r="1.25" fill="#0e3f7c"/>
<circle cx="294.42" cy="295.87" r="1.25" fill="#0e3f7c"/>
<circle cx="289.35" cy="299.04" r="1.25" fill="#0e3f7c"/>
<circle cx="291.25" cy="302.42" r="1.25" fill="#0e3f7c"/>
<circle cx="294.95" cy="302.74" r="1.25" fill="#0e3f7c"/>
<circle cx="291.25" cy="308.56" r="1.25" fill="#0e3f7c"/>
<circle cx="294.42" cy="308.56" r="1.25" fill="#0e3f7c"/>
<circle cx="288.08" cy="315.96" r="1.25" fill="#0e3f7c"/>
<circle cx="298.13" cy="317.55" r="1.25" fill="#0e3f7c"/>
<circle cx="291.25" cy="319.13" r="1.25" fill="#0e3f7c"/>
<circle cx="294.42" cy="319.66" r="1.25" fill="#0e3f7c"/>
<circle cx="294.42" cy="321.78" r="1.25" fill="#0e3f7c"/>
<circle cx="289.66" cy="324.42" r="1.25" fill="#0e3f7c"/>
<circle cx="290.72" cy="326.54" r="1.25" fill="#0e3f7c"/>
<circle cx="293.89" cy="326.54" r="1.25" fill="#0e3f7c"/>
<circle cx="296.01" cy="327.07" r="1.25" fill="#0e3f7c"/>
<circle cx="291.25" cy="328.65" r="1.25" fill="#0e3f7c"/>
<circle cx="293.37" cy="329.71" r="1.25" fill="#0e3f7c"/>
<circle cx="290.72" cy="332.88" r="1.25" fill="#0e3f7c"/>
<circle cx="294.42" cy="332.88" r="1.25" fill="#0e3f7c"/>
<line x1="250.50" y1="257.50" x2="250.50" y2="339.68" stroke="#262626" stroke-width="1.35" />
<line x1="247.90" y1="260.50" x2="250.90" y2="260.50" stroke="#262626" stroke-width="1.215" />
<text x="246.20" y="263.06" font-size="7.1" text-anchor="end" fill="#111111" class="tk">300</text>
<line x1="247.90" y1="286.50" x2="250.90" y2="286.50" stroke="#262626" stroke-width="1.215" />
<text x="246.20" y="289.06" font-size="7.1" text-anchor="end" fill="#111111" class="tk">200</text>
<line x1="247.90" y1="312.50" x2="250.90" y2="312.50" stroke="#262626" stroke-width="1.215" />
<text x="246.20" y="315.56" font-size="7.1" text-anchor="end" fill="#111111" class="tk">100</text>
<line x1="247.90" y1="338.50" x2="250.90" y2="338.50" stroke="#262626" stroke-width="1.215" />
<text x="246.20" y="341.56" font-size="7.1" text-anchor="end" fill="#111111" class="tk">0</text>
<line x1="250.30" y1="338.50" x2="303.40" y2="338.50" stroke="#262626" stroke-width="1.4" />
<line x1="254.70" y1="258.50" x2="283.70" y2="258.50" stroke="#262626" stroke-width="1.0" />
<text x="268.50" y="259.20" font-size="7.0" text-anchor="middle" fill="#111111" font-weight="bold">*</text>
<line x1="254.70" y1="264.50" x2="299.10" y2="264.50" stroke="#262626" stroke-width="1.0" />
<text x="278.00" y="264.50" font-size="7.0" text-anchor="middle" fill="#111111" font-weight="bold">***</text>
<line x1="272.30" y1="269.50" x2="299.10" y2="269.50" stroke="#262626" stroke-width="1.0" />
<text x="285.40" y="269.80" font-size="7.0" text-anchor="middle" fill="#111111" font-weight="bold">*</text>
<text x="229.00" y="300.00" font-size="9.36" text-anchor="middle" fill="#111111" textLength="35" lengthAdjust="spacingAndGlyphs" transform="rotate(-90 229.00 300.00)">IL-6 (pg/mL)</text>
<text x="263.45" y="345.20" font-size="7.5" text-anchor="end" fill="#111111" transform="rotate(-45 263.45 345.20)">TCD</text>
<text x="279.50" y="345.20" font-size="7.5" text-anchor="end" fill="#111111" transform="rotate(-45 279.50 345.20)">WT</text>
<text x="295.60" y="345.20" font-size="7.5" text-anchor="end" fill="#111111" font-style="italic" transform="rotate(-45 295.60 345.20)">Ifnlr1<tspan font-size="4.65" dy="-2.6">−/−</tspan></text>
<line x1="362.50" y1="329.90" x2="362.50" y2="325.30" stroke="#3dbb4c" stroke-width="1.0" />
<line x1="358.56" y1="325.50" x2="365.74" y2="325.50" stroke="#3dbb4c" stroke-width="1.0" />
<path d="M356.50,338.60 V330.50 H368.50 V338.60" fill="none" stroke="#3dbb4c" stroke-width="1.0"/>
<circle cx="362.05" cy="298.19" r="1.25" fill="#3dbb4c"/>
<circle cx="362.05" cy="312.79" r="1.25" fill="#3dbb4c"/>
<circle cx="362.05" cy="327.07" r="1.25" fill="#3dbb4c"/>
<circle cx="360.46" cy="331.83" r="1.25" fill="#3dbb4c"/>
<circle cx="363.63" cy="334.47" r="1.25" fill="#3dbb4c"/>
<circle cx="356.76" cy="336.59" r="1.25" fill="#3dbb4c"/>
<circle cx="359.40" cy="338.70" r="1.25" fill="#3dbb4c"/>
<circle cx="362.05" cy="338.70" r="1.25" fill="#3dbb4c"/>
<circle cx="364.69" cy="338.70" r="1.25" fill="#3dbb4c"/>
<circle cx="367.34" cy="338.70" r="1.25" fill="#3dbb4c"/>
<line x1="377.50" y1="328.90" x2="377.50" y2="320.00" stroke="#d4425c" stroke-width="1.0" />
<line x1="374.34" y1="320.50" x2="381.46" y2="320.50" stroke="#d4425c" stroke-width="1.0" />
<path d="M371.50,338.60 V329.50 H384.50 V338.60" fill="none" stroke="#d4425c" stroke-width="1.0"/>
<circle cx="376.54" cy="308.56" r="1.25" fill="#c8102e"/>
<circle cx="380.03" cy="310.88" r="1.25" fill="#c8102e"/>
<circle cx="379.71" cy="316.17" r="1.25" fill="#c8102e"/>
<circle cx="376.54" cy="319.66" r="1.25" fill="#c8102e"/>
<circle cx="378.23" cy="323.37" r="1.25" fill="#c8102e"/>
<circle cx="374.74" cy="326.54" r="1.25" fill="#c8102e"/>
<circle cx="378.44" cy="326.54" r="1.25" fill="#c8102e"/>
<circle cx="382.14" cy="326.54" r="1.25" fill="#c8102e"/>
<circle cx="372.63" cy="330.77" r="1.25" fill="#c8102e"/>
<circle cx="375.80" cy="331.83" r="1.25" fill="#c8102e"/>
<circle cx="378.44" cy="332.88" r="1.25" fill="#c8102e"/>
<circle cx="380.56" cy="331.83" r="1.25" fill="#c8102e"/>
<circle cx="383.73" cy="330.77" r="1.25" fill="#c8102e"/>
<circle cx="373.15" cy="335.00" r="1.25" fill="#c8102e"/>
<circle cx="377.91" cy="336.06" r="1.25" fill="#c8102e"/>
<circle cx="382.67" cy="335.00" r="1.25" fill="#c8102e"/>
<circle cx="377.91" cy="338.17" r="1.25" fill="#c8102e"/>
<line x1="393.50" y1="326.30" x2="393.50" y2="314.00" stroke="#4a7fb6" stroke-width="1.0" />
<line x1="390.41" y1="314.50" x2="397.49" y2="314.50" stroke="#4a7fb6" stroke-width="1.0" />
<path d="M387.50,338.60 V326.50 H400.50 V338.60" fill="none" stroke="#4a7fb6" stroke-width="1.0"/>
<circle cx="394.10" cy="288.46" r="1.25" fill="#0e3f7c"/>
<circle cx="390.61" cy="313.85" r="1.25" fill="#0e3f7c"/>
<circle cx="393.78" cy="314.90" r="1.25" fill="#0e3f7c"/>
<circle cx="397.48" cy="313.85" r="1.25" fill="#0e3f7c"/>
<circle cx="394.84" cy="317.02" r="1.25" fill="#0e3f7c"/>
<circle cx="392.19" cy="320.72" r="1.25" fill="#0e3f7c"/>
<circle cx="394.84" cy="325.48" r="1.25" fill="#0e3f7c"/>
<circle cx="391.13" cy="328.13" r="1.25" fill="#0e3f7c"/>
<circle cx="393.25" cy="328.65" r="1.25" fill="#0e3f7c"/>
<circle cx="396.42" cy="328.13" r="1.25" fill="#0e3f7c"/>
<circle cx="389.55" cy="330.77" r="1.25" fill="#0e3f7c"/>
<circle cx="392.19" cy="331.83" r="1.25" fill="#0e3f7c"/>
<circle cx="395.37" cy="331.83" r="1.25" fill="#0e3f7c"/>
<circle cx="398.01" cy="330.77" r="1.25" fill="#0e3f7c"/>
<circle cx="390.61" cy="335.00" r="1.25" fill="#0e3f7c"/>
<circle cx="393.78" cy="335.53" r="1.25" fill="#0e3f7c"/>
<circle cx="397.48" cy="335.00" r="1.25" fill="#0e3f7c"/>
<circle cx="399.60" cy="334.47" r="1.25" fill="#0e3f7c"/>
<line x1="351.50" y1="259.60" x2="351.50" y2="339.28" stroke="#262626" stroke-width="1.35" />
<line x1="348.70" y1="260.50" x2="351.70" y2="260.50" stroke="#262626" stroke-width="1.215" />
<text x="347.00" y="262.86" font-size="7.1" text-anchor="end" fill="#111111" class="tk">150</text>
<line x1="348.70" y1="286.50" x2="351.70" y2="286.50" stroke="#262626" stroke-width="1.215" />
<text x="347.00" y="289.06" font-size="7.1" text-anchor="end" fill="#111111" class="tk">100</text>
<line x1="348.70" y1="312.50" x2="351.70" y2="312.50" stroke="#262626" stroke-width="1.215" />
<text x="347.00" y="314.86" font-size="7.1" text-anchor="end" fill="#111111" class="tk">50</text>
<line x1="348.70" y1="338.50" x2="351.70" y2="338.50" stroke="#262626" stroke-width="1.215" />
<text x="347.00" y="341.16" font-size="7.1" text-anchor="end" fill="#111111" class="tk">0</text>
<line x1="351.10" y1="338.50" x2="404.10" y2="338.50" stroke="#262626" stroke-width="1.4" />
<text x="331.40" y="302.40" font-size="9.36" text-anchor="middle" fill="#111111" textLength="36" lengthAdjust="spacingAndGlyphs" transform="rotate(-90 331.40 302.40)">TNF (pg/mL)</text>
<text x="364.75" y="344.80" font-size="7.5" text-anchor="end" fill="#111111" transform="rotate(-45 364.75 344.80)">TCD</text>
<text x="380.50" y="344.80" font-size="7.5" text-anchor="end" fill="#111111" transform="rotate(-45 380.50 344.80)">WT</text>
<text x="396.55" y="344.80" font-size="7.5" text-anchor="end" fill="#111111" font-style="italic" transform="rotate(-45 396.55 344.80)">Ifnlr1<tspan font-size="4.65" dy="-2.6">−/−</tspan></text>
<line x1="458.50" y1="328.90" x2="458.50" y2="326.70" stroke="#3dbb4c" stroke-width="1.0" />
<line x1="455.36" y1="326.50" x2="462.54" y2="326.50" stroke="#3dbb4c" stroke-width="1.0" />
<path d="M452.50,338.80 V329.50 H465.50 V338.80" fill="none" stroke="#3dbb4c" stroke-width="1.0"/>
<circle cx="457.06" cy="319.79" r="1.25" fill="#3dbb4c"/>
<circle cx="462.04" cy="320.38" r="1.25" fill="#3dbb4c"/>
<circle cx="460.62" cy="322.16" r="1.25" fill="#3dbb4c"/>
<circle cx="457.06" cy="324.77" r="1.25" fill="#3dbb4c"/>
<circle cx="459.08" cy="326.90" r="1.25" fill="#3dbb4c"/>
<circle cx="456.11" cy="329.27" r="1.25" fill="#3dbb4c"/>
<circle cx="460.85" cy="328.68" r="1.25" fill="#3dbb4c"/>
<circle cx="460.26" cy="332.23" r="1.25" fill="#3dbb4c"/>
<circle cx="456.71" cy="330.46" r="1.25" fill="#3dbb4c"/>
<circle cx="457.30" cy="339.94" r="1.25" fill="#3dbb4c"/>
<circle cx="460.62" cy="338.16" r="1.25" fill="#3dbb4c"/>
<line x1="475.50" y1="319.30" x2="475.50" y2="316.20" stroke="#d4425c" stroke-width="1.0" />
<line x1="471.57" y1="316.50" x2="478.53" y2="316.50" stroke="#d4425c" stroke-width="1.0" />
<path d="M469.50,338.80 V319.50 H480.50 V338.80" fill="none" stroke="#d4425c" stroke-width="1.0"/>
<circle cx="475.08" cy="286.00" r="1.25" fill="#c8102e"/>
<circle cx="475.08" cy="290.74" r="1.25" fill="#c8102e"/>
<circle cx="475.08" cy="300.58" r="1.25" fill="#c8102e"/>
<circle cx="475.08" cy="305.32" r="1.25" fill="#c8102e"/>
<circle cx="473.30" cy="310.54" r="1.25" fill="#c8102e"/>
<circle cx="476.86" cy="312.44" r="1.25" fill="#c8102e"/>
<circle cx="469.74" cy="319.79" r="1.25" fill="#c8102e"/>
<circle cx="472.71" cy="319.79" r="1.25" fill="#c8102e"/>
<circle cx="476.86" cy="320.97" r="1.25" fill="#c8102e"/>
<circle cx="480.06" cy="319.19" r="1.25" fill="#c8102e"/>
<circle cx="470.34" cy="323.34" r="1.25" fill="#c8102e"/>
<circle cx="474.49" cy="322.16" r="1.25" fill="#c8102e"/>
<circle cx="478.04" cy="323.34" r="1.25" fill="#c8102e"/>
<circle cx="469.74" cy="326.90" r="1.25" fill="#c8102e"/>
<circle cx="473.30" cy="326.31" r="1.25" fill="#c8102e"/>
<circle cx="476.86" cy="325.71" r="1.25" fill="#c8102e"/>
<circle cx="471.52" cy="329.27" r="1.25" fill="#c8102e"/>
<circle cx="474.49" cy="331.64" r="1.25" fill="#c8102e"/>
<circle cx="477.45" cy="329.86" r="1.25" fill="#c8102e"/>
<circle cx="480.06" cy="328.68" r="1.25" fill="#c8102e"/>
<circle cx="475.08" cy="334.60" r="1.25" fill="#c8102e"/>
<line x1="490.50" y1="319.30" x2="490.50" y2="315.70" stroke="#4a7fb6" stroke-width="1.0" />
<line x1="487.47" y1="315.50" x2="494.43" y2="315.50" stroke="#4a7fb6" stroke-width="1.0" />
<path d="M484.50,338.80 V319.50 H496.50 V338.80" fill="none" stroke="#4a7fb6" stroke-width="1.0"/>
<circle cx="491.08" cy="275.93" r="1.25" fill="#0e3f7c"/>
<circle cx="491.08" cy="306.15" r="1.25" fill="#0e3f7c"/>
<circle cx="491.08" cy="310.90" r="1.25" fill="#0e3f7c"/>
<circle cx="492.86" cy="312.91" r="1.25" fill="#0e3f7c"/>
<circle cx="486.34" cy="315.99" r="1.25" fill="#0e3f7c"/>
<circle cx="489.30" cy="315.64" r="1.25" fill="#0e3f7c"/>
<circle cx="492.27" cy="316.82" r="1.25" fill="#0e3f7c"/>
<circle cx="495.82" cy="316.82" r="1.25" fill="#0e3f7c"/>
<circle cx="486.93" cy="319.79" r="1.25" fill="#0e3f7c"/>
<circle cx="489.90" cy="319.55" r="1.25" fill="#0e3f7c"/>
<circle cx="492.86" cy="319.79" r="1.25" fill="#0e3f7c"/>
<circle cx="495.82" cy="320.38" r="1.25" fill="#0e3f7c"/>
<circle cx="486.34" cy="322.16" r="1.25" fill="#0e3f7c"/>
<circle cx="489.90" cy="322.75" r="1.25" fill="#0e3f7c"/>
<circle cx="493.45" cy="322.16" r="1.25" fill="#0e3f7c"/>
<circle cx="496.42" cy="323.34" r="1.25" fill="#0e3f7c"/>
<circle cx="487.53" cy="325.71" r="1.25" fill="#0e3f7c"/>
<circle cx="491.08" cy="325.12" r="1.25" fill="#0e3f7c"/>
<circle cx="494.05" cy="326.31" r="1.25" fill="#0e3f7c"/>
<circle cx="487.53" cy="328.68" r="1.25" fill="#0e3f7c"/>
<circle cx="491.08" cy="326.90" r="1.25" fill="#0e3f7c"/>
<circle cx="494.05" cy="329.27" r="1.25" fill="#0e3f7c"/>
<circle cx="491.08" cy="331.05" r="1.25" fill="#0e3f7c"/>
<circle cx="494.05" cy="330.46" r="1.25" fill="#0e3f7c"/>
<line x1="449.50" y1="259.60" x2="449.50" y2="339.48" stroke="#262626" stroke-width="1.35" />
<line x1="446.10" y1="260.50" x2="449.10" y2="260.50" stroke="#262626" stroke-width="1.215" />
<text x="444.40" y="263.06" font-size="7.1" text-anchor="end" fill="#111111" class="tk">50</text>
<line x1="446.10" y1="276.50" x2="449.10" y2="276.50" stroke="#262626" stroke-width="1.215" />
<text x="444.40" y="278.56" font-size="7.1" text-anchor="end" fill="#111111" class="tk">40</text>
<line x1="446.10" y1="291.50" x2="449.10" y2="291.50" stroke="#262626" stroke-width="1.215" />
<text x="444.40" y="294.36" font-size="7.1" text-anchor="end" fill="#111111" class="tk">30</text>
<line x1="446.10" y1="307.50" x2="449.10" y2="307.50" stroke="#262626" stroke-width="1.215" />
<text x="444.40" y="310.26" font-size="7.1" text-anchor="end" fill="#111111" class="tk">20</text>
<line x1="446.10" y1="323.50" x2="449.10" y2="323.50" stroke="#262626" stroke-width="1.215" />
<text x="444.40" y="325.66" font-size="7.1" text-anchor="end" fill="#111111" class="tk">10</text>
<line x1="446.10" y1="338.50" x2="449.10" y2="338.50" stroke="#262626" stroke-width="1.215" />
<text x="444.40" y="341.36" font-size="7.1" text-anchor="end" fill="#111111" class="tk">0</text>
<line x1="448.50" y1="338.50" x2="501.40" y2="338.50" stroke="#262626" stroke-width="1.4" />
<line x1="452.30" y1="260.50" x2="481.50" y2="260.50" stroke="#262626" stroke-width="1.0" />
<text x="466.70" y="260.70" font-size="7.0" text-anchor="middle" fill="#111111" font-weight="bold">*</text>
<line x1="452.30" y1="265.50" x2="496.30" y2="265.50" stroke="#262626" stroke-width="1.0" />
<text x="475.20" y="265.60" font-size="7.0" text-anchor="middle" fill="#111111" font-weight="bold">*</text>
<text x="429.00" y="298.00" font-size="9.36" text-anchor="middle" fill="#111111" textLength="43" lengthAdjust="spacingAndGlyphs" transform="rotate(-90 429.00 298.00)">IL-17A (pg/mL)</text>
<text x="461.55" y="345.00" font-size="7.5" text-anchor="end" fill="#111111" transform="rotate(-45 461.55 345.00)">TCD</text>
<text x="477.65" y="345.00" font-size="7.5" text-anchor="end" fill="#111111" transform="rotate(-45 477.65 345.00)">WT</text>
<text x="493.55" y="345.00" font-size="7.5" text-anchor="end" fill="#111111" font-style="italic" transform="rotate(-45 493.55 345.00)">Ifnlr1<tspan font-size="4.65" dy="-2.6">−/−</tspan></text>
<text x="9.30" y="373.40" font-size="11.4" font-weight="bold" fill="#000" style="stroke:#000;stroke-width:0.45px;stroke-linejoin:round">G</text>
<text x="53.90" y="380.00" font-size="8.4" text-anchor="middle" fill="#111111">Serum</text>
<line x1="47.50" y1="430.70" x2="47.50" y2="424.70" stroke="#d4425c" stroke-width="1.0" />
<line x1="45.36" y1="424.50" x2="50.44" y2="424.50" stroke="#d4425c" stroke-width="1.0" />
<path d="M43.50,466.30 V431.50 H52.50 V466.30" fill="none" stroke="#d4425c" stroke-width="1.0"/>
<circle cx="48.00" cy="403.00" r="1.25" fill="#c8102e"/>
<circle cx="48.00" cy="418.50" r="1.25" fill="#c8102e"/>
<circle cx="44.90" cy="427.60" r="1.25" fill="#c8102e"/>
<circle cx="47.80" cy="424.90" r="1.25" fill="#c8102e"/>
<circle cx="50.70" cy="428.60" r="1.25" fill="#c8102e"/>
<circle cx="47.80" cy="438.10" r="1.25" fill="#c8102e"/>
<circle cx="45.90" cy="451.20" r="1.25" fill="#c8102e"/>
<circle cx="49.40" cy="451.20" r="1.25" fill="#c8102e"/>
<line x1="59.50" y1="448.30" x2="59.50" y2="443.20" stroke="#4a7fb6" stroke-width="1.0" />
<line x1="56.66" y1="443.50" x2="61.74" y2="443.50" stroke="#4a7fb6" stroke-width="1.0" />
<path d="M54.50,466.30 V448.50 H63.50 V466.30" fill="none" stroke="#4a7fb6" stroke-width="1.0"/>
<circle cx="59.10" cy="430.30" r="1.25" fill="#0e3f7c"/>
<circle cx="59.10" cy="443.40" r="1.25" fill="#0e3f7c"/>
<circle cx="57.50" cy="446.20" r="1.25" fill="#0e3f7c"/>
<circle cx="60.70" cy="446.20" r="1.25" fill="#0e3f7c"/>
<circle cx="56.20" cy="448.30" r="1.25" fill="#0e3f7c"/>
<circle cx="62.00" cy="448.30" r="1.25" fill="#0e3f7c"/>
<circle cx="59.10" cy="452.50" r="1.25" fill="#0e3f7c"/>
<circle cx="57.40" cy="456.60" r="1.25" fill="#0e3f7c"/>
<circle cx="61.00" cy="456.20" r="1.25" fill="#0e3f7c"/>
<line x1="39.50" y1="389.40" x2="39.50" y2="466.98" stroke="#262626" stroke-width="1.35" />
<line x1="36.70" y1="389.50" x2="39.70" y2="389.50" stroke="#262626" stroke-width="1.215" />
<text x="35.00" y="392.46" font-size="7.1" text-anchor="end" fill="#111111" class="tk">400</text>
<line x1="36.70" y1="409.50" x2="39.70" y2="409.50" stroke="#262626" stroke-width="1.215" />
<text x="35.00" y="411.76" font-size="7.1" text-anchor="end" fill="#111111" class="tk">300</text>
<line x1="36.70" y1="428.50" x2="39.70" y2="428.50" stroke="#262626" stroke-width="1.215" />
<text x="35.00" y="430.86" font-size="7.1" text-anchor="end" fill="#111111" class="tk">200</text>
<line x1="36.70" y1="447.50" x2="39.70" y2="447.50" stroke="#262626" stroke-width="1.215" />
<text x="35.00" y="449.96" font-size="7.1" text-anchor="end" fill="#111111" class="tk">100</text>
<line x1="36.70" y1="466.50" x2="39.70" y2="466.50" stroke="#262626" stroke-width="1.215" />
<text x="35.00" y="468.86" font-size="7.1" text-anchor="end" fill="#111111" class="tk">0</text>
<line x1="39.10" y1="466.50" x2="68.10" y2="466.50" stroke="#262626" stroke-width="1.4" />
<line x1="43.10" y1="389.50" x2="60.10" y2="389.50" stroke="#262626" stroke-width="1.0" />
<text x="52.00" y="389.80" font-size="7.0" text-anchor="middle" fill="#111111" font-weight="bold">*</text>
<text x="15.80" y="431.40" font-size="9.36" text-anchor="middle" fill="#111111" textLength="56" lengthAdjust="spacingAndGlyphs" transform="rotate(-90 15.80 431.40)">IL-28A/B (pg/mL)</text>
<text x="50.30" y="470.90" font-size="6.8" text-anchor="end" fill="#111111" transform="rotate(-45 50.30 470.90)">Naive</text>
<text x="61.60" y="470.90" font-size="6.8" text-anchor="end" fill="#111111" transform="rotate(-45 61.60 470.90)">TBI</text>
<text x="129.00" y="380.00" font-size="8.4" text-anchor="middle" fill="#111111">SI</text>
<line x1="123.50" y1="439.40" x2="123.50" y2="432.40" stroke="#d4425c" stroke-width="1.0" />
<line x1="121.22" y1="432.50" x2="126.18" y2="432.50" stroke="#d4425c" stroke-width="1.0" />
<path d="M119.50,466.90 V439.50 H127.50 V466.90" fill="none" stroke="#d4425c" stroke-width="1.0"/>
<circle cx="124.00" cy="393.50" r="1.25" fill="#c8102e"/>
<circle cx="125.40" cy="442.20" r="1.25" fill="#c8102e"/>
<circle cx="122.00" cy="444.40" r="1.25" fill="#c8102e"/>
<circle cx="126.90" cy="444.90" r="1.25" fill="#c8102e"/>
<circle cx="120.60" cy="447.10" r="1.25" fill="#c8102e"/>
<circle cx="123.70" cy="448.60" r="1.25" fill="#c8102e"/>
<circle cx="123.70" cy="463.10" r="1.25" fill="#c8102e"/>
<line x1="134.50" y1="455.40" x2="134.50" y2="453.60" stroke="#4a7fb6" stroke-width="1.0" />
<line x1="132.35" y1="453.50" x2="137.65" y2="453.50" stroke="#4a7fb6" stroke-width="1.0" />
<path d="M130.50,466.90 V455.50 H139.50 V466.90" fill="none" stroke="#4a7fb6" stroke-width="1.0"/>
<circle cx="133.10" cy="451.30" r="1.25" fill="#0e3f7c"/>
<circle cx="136.90" cy="450.90" r="1.25" fill="#0e3f7c"/>
<circle cx="132.20" cy="455.20" r="1.25" fill="#0e3f7c"/>
<circle cx="134.90" cy="454.60" r="1.25" fill="#0e3f7c"/>
<circle cx="137.60" cy="455.20" r="1.25" fill="#0e3f7c"/>
<circle cx="134.90" cy="463.10" r="1.25" fill="#0e3f7c"/>
<line x1="114.50" y1="390.30" x2="114.50" y2="467.57" stroke="#262626" stroke-width="1.35" />
<line x1="111.80" y1="393.50" x2="114.80" y2="393.50" stroke="#262626" stroke-width="1.215" />
<text x="110.10" y="395.66" font-size="7.1" text-anchor="end" fill="#111111" class="tk">6000</text>
<line x1="111.80" y1="417.50" x2="114.80" y2="417.50" stroke="#262626" stroke-width="1.215" />
<text x="110.10" y="420.26" font-size="7.1" text-anchor="end" fill="#111111" class="tk">4000</text>
<line x1="111.80" y1="442.50" x2="114.80" y2="442.50" stroke="#262626" stroke-width="1.215" />
<text x="110.10" y="445.16" font-size="7.1" text-anchor="end" fill="#111111" class="tk">2000</text>
<line x1="111.80" y1="466.50" x2="114.80" y2="466.50" stroke="#262626" stroke-width="1.215" />
<text x="110.10" y="469.46" font-size="7.1" text-anchor="end" fill="#111111" class="tk">0</text>
<line x1="114.20" y1="466.50" x2="144.10" y2="466.50" stroke="#262626" stroke-width="1.4" />
<line x1="119.60" y1="390.50" x2="135.80" y2="390.50" stroke="#262626" stroke-width="1.0" />
<text x="127.70" y="390.20" font-size="7.0" text-anchor="middle" fill="#111111" font-weight="bold">**</text>
<text x="86.80" y="431.40" font-size="9.36" text-anchor="middle" fill="#111111" textLength="50" lengthAdjust="spacingAndGlyphs" transform="rotate(-90 86.80 431.40)">IL-28A/B (pg/g)</text>
<text x="126.10" y="471.50" font-size="6.8" text-anchor="end" fill="#111111" transform="rotate(-45 126.10 471.50)">Naive</text>
<text x="137.40" y="471.50" font-size="6.8" text-anchor="end" fill="#111111" transform="rotate(-45 137.40 471.50)">TBI</text>
<text x="193.20" y="380.00" font-size="8.4" text-anchor="middle" fill="#111111">Colon</text>
<line x1="187.50" y1="450.60" x2="187.50" y2="441.70" stroke="#d4425c" stroke-width="1.0" />
<line x1="184.97" y1="441.50" x2="189.83" y2="441.50" stroke="#d4425c" stroke-width="1.0" />
<path d="M183.50,466.90 V451.50 H191.50 V466.90" fill="none" stroke="#d4425c" stroke-width="1.0"/>
<circle cx="186.00" cy="403.40" r="1.25" fill="#c8102e"/>
<circle cx="189.70" cy="406.70" r="1.25" fill="#c8102e"/>
<circle cx="187.90" cy="455.20" r="1.25" fill="#c8102e"/>
<circle cx="187.90" cy="460.40" r="1.25" fill="#c8102e"/>
<circle cx="184.50" cy="464.80" r="1.25" fill="#c8102e"/>
<circle cx="187.30" cy="465.60" r="1.25" fill="#c8102e"/>
<circle cx="190.30" cy="465.20" r="1.25" fill="#c8102e"/>
<line x1="198.50" y1="454.50" x2="198.50" y2="447.50" stroke="#4a7fb6" stroke-width="1.0" />
<line x1="196.23" y1="447.50" x2="201.47" y2="447.50" stroke="#4a7fb6" stroke-width="1.0" />
<path d="M194.50,466.90 V454.50 H203.50 V466.90" fill="none" stroke="#4a7fb6" stroke-width="1.0"/>
<circle cx="199.00" cy="414.50" r="1.25" fill="#0e3f7c"/>
<circle cx="199.00" cy="424.60" r="1.25" fill="#0e3f7c"/>
<circle cx="196.00" cy="464.80" r="1.25" fill="#0e3f7c"/>
<circle cx="199.60" cy="464.00" r="1.25" fill="#0e3f7c"/>
<circle cx="202.00" cy="464.80" r="1.25" fill="#0e3f7c"/>
<line x1="178.50" y1="389.40" x2="178.50" y2="467.57" stroke="#262626" stroke-width="1.35" />
<line x1="175.70" y1="389.50" x2="178.70" y2="389.50" stroke="#262626" stroke-width="1.215" />
<text x="174.00" y="392.46" font-size="7.1" text-anchor="end" fill="#111111" class="tk">1500</text>
<line x1="175.70" y1="415.50" x2="178.70" y2="415.50" stroke="#262626" stroke-width="1.215" />
<text x="174.00" y="417.96" font-size="7.1" text-anchor="end" fill="#111111" class="tk">1000</text>
<line x1="175.70" y1="441.50" x2="178.70" y2="441.50" stroke="#262626" stroke-width="1.215" />
<text x="174.00" y="443.86" font-size="7.1" text-anchor="end" fill="#111111" class="tk">500</text>
<line x1="175.70" y1="466.50" x2="178.70" y2="466.50" stroke="#262626" stroke-width="1.215" />
<text x="174.00" y="469.46" font-size="7.1" text-anchor="end" fill="#111111" class="tk">0</text>
<line x1="178.10" y1="466.50" x2="208.40" y2="466.50" stroke="#262626" stroke-width="1.4" />
<text x="189.80" y="471.50" font-size="6.8" text-anchor="end" fill="#111111" transform="rotate(-45 189.80 471.50)">Naive</text>
<text x="201.25" y="471.50" font-size="6.8" text-anchor="end" fill="#111111" transform="rotate(-45 201.25 471.50)">TBI</text>
<text x="235.00" y="373.20" font-size="11.4" font-weight="bold" fill="#000" style="stroke:#000;stroke-width:0.45px;stroke-linejoin:round">H</text>
<text x="299.70" y="380.00" font-size="8.4" text-anchor="middle" fill="#111111">Serum</text>
<line x1="281.50" y1="452.30" x2="281.50" y2="456.50" stroke="#c8102e" stroke-width="0.9" />
<line x1="280.40" y1="452.50" x2="283.40" y2="452.50" stroke="#c8102e" stroke-width="0.9" />
<line x1="280.40" y1="456.50" x2="283.40" y2="456.50" stroke="#c8102e" stroke-width="0.9" />
<line x1="299.50" y1="449.50" x2="299.50" y2="455.00" stroke="#c8102e" stroke-width="0.9" />
<line x1="297.70" y1="449.50" x2="300.70" y2="449.50" stroke="#c8102e" stroke-width="0.9" />
<line x1="297.70" y1="454.50" x2="300.70" y2="454.50" stroke="#c8102e" stroke-width="0.9" />
<line x1="317.50" y1="450.80" x2="317.50" y2="456.00" stroke="#c8102e" stroke-width="0.9" />
<line x1="315.70" y1="450.50" x2="318.70" y2="450.50" stroke="#c8102e" stroke-width="0.9" />
<line x1="315.70" y1="456.50" x2="318.70" y2="456.50" stroke="#c8102e" stroke-width="0.9" />
<line x1="281.50" y1="444.80" x2="281.50" y2="451.40" stroke="#1b5798" stroke-width="0.9" />
<line x1="280.40" y1="444.50" x2="283.40" y2="444.50" stroke="#1b5798" stroke-width="0.9" />
<line x1="280.40" y1="451.50" x2="283.40" y2="451.50" stroke="#1b5798" stroke-width="0.9" />
<line x1="299.50" y1="443.20" x2="299.50" y2="450.40" stroke="#1b5798" stroke-width="0.9" />
<line x1="297.70" y1="443.50" x2="300.70" y2="443.50" stroke="#1b5798" stroke-width="0.9" />
<line x1="297.70" y1="450.50" x2="300.70" y2="450.50" stroke="#1b5798" stroke-width="0.9" />
<line x1="317.50" y1="444.00" x2="317.50" y2="447.60" stroke="#1b5798" stroke-width="0.9" />
<line x1="315.70" y1="444.50" x2="318.70" y2="444.50" stroke="#1b5798" stroke-width="0.9" />
<line x1="315.70" y1="447.50" x2="318.70" y2="447.50" stroke="#1b5798" stroke-width="0.9" />
<polyline points="281.90,454.60 299.20,452.30 317.20,453.50" fill="none" stroke="#c8102e" stroke-width="1.4" stroke-linejoin="miter" />
<circle cx="281.90" cy="454.60" r="1.2" fill="#c8102e"/>
<circle cx="299.20" cy="452.30" r="1.2" fill="#c8102e"/>
<circle cx="317.20" cy="453.50" r="1.2" fill="#c8102e"/>
<polyline points="281.90,448.20 299.20,446.80 317.20,445.90" fill="none" stroke="#1b5798" stroke-width="1.4" stroke-linejoin="miter" />
<circle cx="281.90" cy="448.20" r="1.2" fill="#1b5798"/>
<circle cx="299.20" cy="446.80" r="1.2" fill="#1b5798"/>
<circle cx="317.20" cy="445.90" r="1.2" fill="#1b5798"/>
<line x1="269.20" y1="431.50" x2="329.70" y2="431.50" stroke="#111" stroke-width="1.0" stroke-dasharray="2.6,1.6"/>
<text x="330.80" y="433.40" font-size="6.6" text-anchor="start" fill="#111111">Naive</text>
<line x1="269.50" y1="391.20" x2="269.50" y2="467.57" stroke="#262626" stroke-width="1.35" />
<line x1="266.20" y1="391.50" x2="269.20" y2="391.50" stroke="#262626" stroke-width="1.215" />
<text x="264.50" y="394.36" font-size="7.1" text-anchor="end" fill="#111111" class="tk">400</text>
<line x1="266.20" y1="410.50" x2="269.20" y2="410.50" stroke="#262626" stroke-width="1.215" />
<text x="264.50" y="412.86" font-size="7.1" text-anchor="end" fill="#111111" class="tk">300</text>
<line x1="266.20" y1="429.50" x2="269.20" y2="429.50" stroke="#262626" stroke-width="1.215" />
<text x="264.50" y="431.76" font-size="7.1" text-anchor="end" fill="#111111" class="tk">200</text>
<line x1="266.20" y1="448.50" x2="269.20" y2="448.50" stroke="#262626" stroke-width="1.215" />
<text x="264.50" y="450.76" font-size="7.1" text-anchor="end" fill="#111111" class="tk">100</text>
<line x1="266.20" y1="466.50" x2="269.20" y2="466.50" stroke="#262626" stroke-width="1.215" />
<text x="264.50" y="469.46" font-size="7.1" text-anchor="end" fill="#111111" class="tk">0</text>
<line x1="268.60" y1="466.50" x2="329.70" y2="466.50" stroke="#262626" stroke-width="1.4" />
<line x1="281.50" y1="466.90" x2="281.50" y2="469.50" stroke="#262626" stroke-width="1.0" />
<text x="281.90" y="476.90" font-size="7.1" text-anchor="middle" fill="#111111" class="tk">1</text>
<line x1="299.50" y1="466.90" x2="299.50" y2="469.50" stroke="#262626" stroke-width="1.0" />
<text x="299.20" y="476.90" font-size="7.1" text-anchor="middle" fill="#111111" class="tk">3</text>
<line x1="317.50" y1="466.90" x2="317.50" y2="469.50" stroke="#262626" stroke-width="1.0" />
<text x="317.20" y="476.90" font-size="7.1" text-anchor="middle" fill="#111111" class="tk">7</text>
<text x="296.45" y="486.00" font-size="8.6" text-anchor="middle" fill="#111111" textLength="58" lengthAdjust="spacingAndGlyphs">Days post-transplant</text>
<text x="248.60" y="429.80" font-size="9.36" text-anchor="middle" fill="#111111" textLength="50" lengthAdjust="spacingAndGlyphs" transform="rotate(-90 248.60 429.80)">IL-28A/B (pg/mL)</text>
<text x="429.20" y="380.00" font-size="8.4" text-anchor="middle" fill="#111111">SI</text>
<line x1="411.50" y1="433.60" x2="411.50" y2="441.00" stroke="#c8102e" stroke-width="0.9" />
<line x1="409.70" y1="433.50" x2="412.70" y2="433.50" stroke="#c8102e" stroke-width="0.9" />
<line x1="409.70" y1="440.50" x2="412.70" y2="440.50" stroke="#c8102e" stroke-width="0.9" />
<line x1="429.50" y1="411.20" x2="429.50" y2="432.00" stroke="#c8102e" stroke-width="0.9" />
<line x1="427.70" y1="411.50" x2="430.70" y2="411.50" stroke="#c8102e" stroke-width="0.9" />
<line x1="427.70" y1="432.50" x2="430.70" y2="432.50" stroke="#c8102e" stroke-width="0.9" />
<line x1="447.50" y1="439.60" x2="447.50" y2="451.20" stroke="#c8102e" stroke-width="0.9" />
<line x1="445.70" y1="439.50" x2="448.70" y2="439.50" stroke="#c8102e" stroke-width="0.9" />
<line x1="445.70" y1="451.50" x2="448.70" y2="451.50" stroke="#c8102e" stroke-width="0.9" />
<line x1="411.50" y1="441.00" x2="411.50" y2="450.50" stroke="#1b5798" stroke-width="0.9" />
<line x1="409.70" y1="440.50" x2="412.70" y2="440.50" stroke="#1b5798" stroke-width="0.9" />
<line x1="409.70" y1="450.50" x2="412.70" y2="450.50" stroke="#1b5798" stroke-width="0.9" />
<line x1="429.50" y1="432.00" x2="429.50" y2="447.40" stroke="#1b5798" stroke-width="0.9" />
<line x1="427.70" y1="432.50" x2="430.70" y2="432.50" stroke="#1b5798" stroke-width="0.9" />
<line x1="427.70" y1="447.50" x2="430.70" y2="447.50" stroke="#1b5798" stroke-width="0.9" />
<line x1="447.50" y1="403.80" x2="447.50" y2="425.30" stroke="#1b5798" stroke-width="0.9" />
<line x1="445.70" y1="403.50" x2="448.70" y2="403.50" stroke="#1b5798" stroke-width="0.9" />
<line x1="445.70" y1="425.50" x2="448.70" y2="425.50" stroke="#1b5798" stroke-width="0.9" />
<polyline points="411.20,437.30 429.20,424.60 447.20,444.90" fill="none" stroke="#c8102e" stroke-width="1.4" stroke-linejoin="miter" />
<circle cx="411.20" cy="437.30" r="1.2" fill="#c8102e"/>
<circle cx="429.20" cy="424.60" r="1.2" fill="#c8102e"/>
<circle cx="447.20" cy="444.90" r="1.2" fill="#c8102e"/>
<polyline points="411.20,445.40 429.20,439.60 447.20,414.70" fill="none" stroke="#1b5798" stroke-width="1.4" stroke-linejoin="miter" />
<circle cx="411.20" cy="445.40" r="1.2" fill="#1b5798"/>
<circle cx="429.20" cy="439.60" r="1.2" fill="#1b5798"/>
<circle cx="447.20" cy="414.70" r="1.2" fill="#1b5798"/>
<line x1="399.20" y1="433.50" x2="459.20" y2="433.50" stroke="#111" stroke-width="1.0" stroke-dasharray="2.6,1.6"/>
<text x="459.90" y="435.70" font-size="6.6" text-anchor="start" fill="#111111">Naive</text>
<line x1="399.50" y1="391.70" x2="399.50" y2="467.57" stroke="#262626" stroke-width="1.35" />
<line x1="396.20" y1="392.50" x2="399.20" y2="392.50" stroke="#262626" stroke-width="1.215" />
<text x="394.50" y="394.86" font-size="7.1" text-anchor="end" fill="#111111" class="tk">5000</text>
<line x1="396.20" y1="406.50" x2="399.20" y2="406.50" stroke="#262626" stroke-width="1.215" />
<text x="394.50" y="409.36" font-size="7.1" text-anchor="end" fill="#111111" class="tk">4000</text>
<line x1="396.20" y1="421.50" x2="399.20" y2="421.50" stroke="#262626" stroke-width="1.215" />
<text x="394.50" y="424.36" font-size="7.1" text-anchor="end" fill="#111111" class="tk">3000</text>
<line x1="396.20" y1="436.50" x2="399.20" y2="436.50" stroke="#262626" stroke-width="1.215" />
<text x="394.50" y="439.46" font-size="7.1" text-anchor="end" fill="#111111" class="tk">2000</text>
<line x1="396.20" y1="451.50" x2="399.20" y2="451.50" stroke="#262626" stroke-width="1.215" />
<text x="394.50" y="454.46" font-size="7.1" text-anchor="end" fill="#111111" class="tk">1000</text>
<line x1="396.20" y1="466.50" x2="399.20" y2="466.50" stroke="#262626" stroke-width="1.215" />
<text x="394.50" y="469.46" font-size="7.1" text-anchor="end" fill="#111111" class="tk">0</text>
<line x1="398.60" y1="466.50" x2="459.20" y2="466.50" stroke="#262626" stroke-width="1.4" />
<line x1="411.50" y1="466.90" x2="411.50" y2="469.50" stroke="#262626" stroke-width="1.0" />
<text x="411.20" y="476.90" font-size="7.1" text-anchor="middle" fill="#111111" class="tk">1</text>
<line x1="429.50" y1="466.90" x2="429.50" y2="469.50" stroke="#262626" stroke-width="1.0" />
<text x="429.20" y="476.90" font-size="7.1" text-anchor="middle" fill="#111111" class="tk">3</text>
<line x1="447.50" y1="466.90" x2="447.50" y2="469.50" stroke="#262626" stroke-width="1.0" />
<text x="447.20" y="476.90" font-size="7.1" text-anchor="middle" fill="#111111" class="tk">7</text>
<text x="426.20" y="486.00" font-size="8.6" text-anchor="middle" fill="#111111" textLength="58" lengthAdjust="spacingAndGlyphs">Days post-transplant</text>
<text x="371.60" y="428.00" font-size="9.36" text-anchor="middle" fill="#111111" textLength="46" lengthAdjust="spacingAndGlyphs" transform="rotate(-90 371.60 428.00)">IL-28A/B (pg/g)</text>
<text x="447.70" y="398.20" font-size="7.0" text-anchor="middle" fill="#111111" font-weight="bold">*</text>
<line x1="461.70" y1="400.50" x2="469.50" y2="400.50" stroke="#c8102e" stroke-width="1.3" />
<circle cx="465.60" cy="400.40" r="1.1" fill="#c8102e"/>
<line x1="461.70" y1="410.50" x2="469.50" y2="410.50" stroke="#1b5798" stroke-width="1.3" />
<circle cx="465.60" cy="411.00" r="1.1" fill="#1b5798"/>
<text x="471.80" y="402.90" font-size="7.2" text-anchor="start" fill="#111111" textLength="11.8" lengthAdjust="spacingAndGlyphs">TCD</text>
<text x="471.80" y="413.50" font-size="7.2" text-anchor="start" fill="#111111" textLength="21.5" lengthAdjust="spacingAndGlyphs">BMT+T</text>
<text x="9.50" y="498.00" font-size="11.4" font-weight="bold" fill="#000" style="stroke:#000;stroke-width:0.45px;stroke-linejoin:round">I</text>
<polyline points="36.60,510.95 127.80,510.95" fill="none" stroke="#3dbb4c" stroke-width="1.3" stroke-linejoin="miter" />
<line x1="120.50" y1="509.45" x2="120.50" y2="512.45" stroke="#3dbb4c" stroke-width="1.0" />
<line x1="127.50" y1="509.45" x2="127.50" y2="512.45" stroke="#3dbb4c" stroke-width="1.0" />
<polyline points="36.60,510.95 56.20,510.95 56.20,516.70 64.90,516.70 64.90,522.00 67.80,522.00 67.80,528.30 70.10,528.30 70.10,533.50 72.10,533.50 72.10,545.00 116.20,545.00 116.20,550.80 127.80,550.80" fill="none" stroke="#1b5798" stroke-width="1.3" stroke-linejoin="miter" />
<polyline points="36.60,510.95 52.80,510.95 52.80,516.70 72.10,516.70 72.10,521.90 74.10,521.90 74.10,528.30 80.20,528.30 80.20,533.50 103.00,533.50 103.00,539.20 127.80,539.20" fill="none" stroke="#c8102e" stroke-width="1.3" stroke-linejoin="miter" />
<line x1="120.50" y1="537.70" x2="120.50" y2="540.70" stroke="#c8102e" stroke-width="1.0" />
<line x1="127.50" y1="537.70" x2="127.50" y2="540.70" stroke="#c8102e" stroke-width="1.0" />
<line x1="117.50" y1="549.30" x2="117.50" y2="552.30" stroke="#1b5798" stroke-width="1.0" />
<line x1="121.50" y1="549.30" x2="121.50" y2="552.30" stroke="#1b5798" stroke-width="1.0" />
<line x1="124.50" y1="549.30" x2="124.50" y2="552.30" stroke="#1b5798" stroke-width="1.0" />
<line x1="127.50" y1="549.30" x2="127.50" y2="552.30" stroke="#1b5798" stroke-width="1.0" />
<line x1="55.50" y1="509.50" x2="55.50" y2="512.50" stroke="#1b5798" stroke-width="1.0" />
<line x1="71.50" y1="514.80" x2="71.50" y2="518.50" stroke="#c8102e" stroke-width="1.0" />
<polyline points="130.80,539.00 132.60,539.00 132.60,551.00 130.80,551.00" fill="none" stroke="#262626" stroke-width="0.9" stroke-linejoin="miter" />
<text x="135.40" y="547.00" font-size="6.8" text-anchor="start" fill="#111111" textLength="10" lengthAdjust="spacingAndGlyphs">n.s.</text>
<line x1="36.50" y1="503.70" x2="36.50" y2="579.38" stroke="#262626" stroke-width="1.35" />
<line x1="33.60" y1="510.50" x2="36.60" y2="510.50" stroke="#262626" stroke-width="1.215" />
<text x="31.90" y="513.56" font-size="7.1" text-anchor="end" fill="#111111" class="tk">100</text>
<line x1="33.60" y1="528.50" x2="36.60" y2="528.50" stroke="#262626" stroke-width="1.215" />
<text x="31.90" y="530.56" font-size="7.1" text-anchor="end" fill="#111111" class="tk">75</text>
<line x1="33.60" y1="544.50" x2="36.60" y2="544.50" stroke="#262626" stroke-width="1.215" />
<text x="31.90" y="547.56" font-size="7.1" text-anchor="end" fill="#111111" class="tk">50</text>
<line x1="33.60" y1="562.50" x2="36.60" y2="562.50" stroke="#262626" stroke-width="1.215" />
<text x="31.90" y="564.56" font-size="7.1" text-anchor="end" fill="#111111" class="tk">25</text>
<line x1="33.60" y1="578.50" x2="36.60" y2="578.50" stroke="#262626" stroke-width="1.215" />
<text x="31.90" y="581.26" font-size="7.1" text-anchor="end" fill="#111111" class="tk">0</text>
<line x1="35.93" y1="578.50" x2="141.90" y2="578.50" stroke="#262626" stroke-width="1.35" />
<line x1="36.50" y1="579.00" x2="36.50" y2="582.00" stroke="#262626" stroke-width="1.215" />
<text x="36.60" y="589.00" font-size="7.1" text-anchor="middle" fill="#111111" class="tk">0</text>
<line x1="62.50" y1="579.00" x2="62.50" y2="582.00" stroke="#262626" stroke-width="1.215" />
<text x="62.90" y="589.00" font-size="7.1" text-anchor="middle" fill="#111111" class="tk">20</text>
<line x1="89.50" y1="579.00" x2="89.50" y2="582.00" stroke="#262626" stroke-width="1.215" />
<text x="89.70" y="589.00" font-size="7.1" text-anchor="middle" fill="#111111" class="tk">40</text>
<line x1="116.50" y1="579.00" x2="116.50" y2="582.00" stroke="#262626" stroke-width="1.215" />
<text x="116.20" y="589.00" font-size="7.1" text-anchor="middle" fill="#111111" class="tk">60</text>
<line x1="141.50" y1="579.00" x2="141.50" y2="582.00" stroke="#262626" stroke-width="1.215" />
<text x="141.90" y="589.00" font-size="7.1" text-anchor="middle" fill="#111111" class="tk">80</text>
<text x="91.70" y="598.80" font-size="8.6" text-anchor="middle" fill="#111111" textLength="59.5" lengthAdjust="spacingAndGlyphs">Days post-transplant</text>
<text x="15.60" y="542.70" font-size="9.243" text-anchor="middle" fill="#111111" textLength="30" lengthAdjust="spacingAndGlyphs" transform="rotate(-90 15.60 542.70)">% Survival</text>
<text x="173.60" y="498.30" font-size="11.4" font-weight="bold" fill="#000" style="stroke:#000;stroke-width:0.45px;stroke-linejoin:round">J</text>
<line x1="193.30" y1="579.50" x2="300.90" y2="579.50" stroke="#262626" stroke-width="1.3" />
<line x1="203.50" y1="541.16" x2="203.50" y2="537.99" stroke="#222" stroke-width="0.9" />
<line x1="202.16" y1="537.50" x2="205.16" y2="537.50" stroke="#222" stroke-width="0.9" />
<line x1="216.50" y1="535.45" x2="216.50" y2="531.65" stroke="#222" stroke-width="0.9" />
<line x1="215.30" y1="531.50" x2="218.30" y2="531.50" stroke="#222" stroke-width="0.9" />
<line x1="228.50" y1="532.28" x2="228.50" y2="527.85" stroke="#222" stroke-width="0.9" />
<line x1="226.80" y1="527.50" x2="229.80" y2="527.50" stroke="#222" stroke-width="0.9" />
<line x1="239.50" y1="528.48" x2="239.50" y2="523.41" stroke="#222" stroke-width="0.9" />
<line x1="238.30" y1="523.50" x2="241.30" y2="523.50" stroke="#222" stroke-width="0.9" />
<line x1="251.50" y1="532.28" x2="251.50" y2="527.85" stroke="#222" stroke-width="0.9" />
<line x1="249.81" y1="527.50" x2="252.81" y2="527.50" stroke="#222" stroke-width="0.9" />
<line x1="262.50" y1="540.53" x2="262.50" y2="536.09" stroke="#222" stroke-width="0.9" />
<line x1="261.31" y1="536.50" x2="264.31" y2="536.50" stroke="#222" stroke-width="0.9" />
<line x1="274.50" y1="544.96" x2="274.50" y2="540.53" stroke="#222" stroke-width="0.9" />
<line x1="272.81" y1="540.50" x2="275.81" y2="540.50" stroke="#222" stroke-width="0.9" />
<line x1="285.50" y1="551.30" x2="285.50" y2="544.33" stroke="#222" stroke-width="0.9" />
<line x1="284.31" y1="544.50" x2="287.31" y2="544.50" stroke="#222" stroke-width="0.9" />
<line x1="297.50" y1="551.30" x2="297.50" y2="543.70" stroke="#222" stroke-width="0.9" />
<line x1="295.81" y1="543.50" x2="298.81" y2="543.50" stroke="#222" stroke-width="0.9" />
<line x1="203.50" y1="546.23" x2="203.50" y2="543.06" stroke="#222" stroke-width="0.9" />
<line x1="202.16" y1="543.50" x2="205.16" y2="543.50" stroke="#222" stroke-width="0.9" />
<line x1="216.50" y1="536.09" x2="216.50" y2="532.28" stroke="#222" stroke-width="0.9" />
<line x1="215.30" y1="532.50" x2="218.30" y2="532.50" stroke="#222" stroke-width="0.9" />
<line x1="228.50" y1="528.48" x2="228.50" y2="524.68" stroke="#222" stroke-width="0.9" />
<line x1="226.80" y1="524.50" x2="229.80" y2="524.50" stroke="#222" stroke-width="0.9" />
<line x1="239.50" y1="520.87" x2="239.50" y2="515.80" stroke="#222" stroke-width="0.9" />
<line x1="238.30" y1="515.50" x2="241.30" y2="515.50" stroke="#222" stroke-width="0.9" />
<line x1="251.50" y1="530.38" x2="251.50" y2="526.58" stroke="#222" stroke-width="0.9" />
<line x1="249.81" y1="526.50" x2="252.81" y2="526.50" stroke="#222" stroke-width="0.9" />
<line x1="262.50" y1="534.82" x2="262.50" y2="531.02" stroke="#222" stroke-width="0.9" />
<line x1="261.31" y1="531.50" x2="264.31" y2="531.50" stroke="#222" stroke-width="0.9" />
<line x1="274.50" y1="545.60" x2="274.50" y2="538.62" stroke="#222" stroke-width="0.9" />
<line x1="272.81" y1="538.50" x2="275.81" y2="538.50" stroke="#222" stroke-width="0.9" />
<line x1="285.50" y1="533.55" x2="285.50" y2="524.68" stroke="#222" stroke-width="0.9" />
<line x1="284.31" y1="524.50" x2="287.31" y2="524.50" stroke="#222" stroke-width="0.9" />
<line x1="297.50" y1="534.19" x2="297.50" y2="521.51" stroke="#222" stroke-width="0.9" />
<line x1="295.81" y1="521.50" x2="298.81" y2="521.50" stroke="#222" stroke-width="0.9" />
<line x1="216.50" y1="576.03" x2="216.50" y2="574.13" stroke="#3dbb4c" stroke-width="0.9" />
<polyline points="193.80,579.20 203.66,579.20 216.80,576.03 228.30,578.19 239.80,579.20 251.31,579.20 262.81,577.93 274.31,578.19 285.81,579.20 297.31,579.20" fill="none" stroke="#3dbb4c" stroke-width="1.3" stroke-linejoin="miter" />
<polyline points="193.80,579.20 203.66,541.16 216.80,535.45 228.30,532.28 239.80,528.48 251.31,532.28 262.81,540.53 274.31,544.96 285.81,551.30 297.31,551.30" fill="none" stroke="#c8102e" stroke-width="1.4" stroke-linejoin="miter" />
<polyline points="193.80,579.20 203.66,546.23 216.80,536.09 228.30,528.48 239.80,520.87 251.31,530.38 262.81,534.82 274.31,545.60 285.81,533.55 297.31,534.19" fill="none" stroke="#1b5798" stroke-width="1.4" stroke-linejoin="miter" />
<circle cx="203.66" cy="579.20" r="1.0" fill="#3dbb4c"/>
<circle cx="216.80" cy="576.03" r="1.0" fill="#3dbb4c"/>
<circle cx="228.30" cy="578.19" r="1.0" fill="#3dbb4c"/>
<circle cx="239.80" cy="579.20" r="1.0" fill="#3dbb4c"/>
<circle cx="251.31" cy="579.20" r="1.0" fill="#3dbb4c"/>
<circle cx="262.81" cy="577.93" r="1.0" fill="#3dbb4c"/>
<circle cx="274.31" cy="578.19" r="1.0" fill="#3dbb4c"/>
<circle cx="285.81" cy="579.20" r="1.0" fill="#3dbb4c"/>
<circle cx="297.31" cy="579.20" r="1.0" fill="#3dbb4c"/>
<circle cx="203.66" cy="541.16" r="1.0" fill="#c8102e"/>
<circle cx="216.80" cy="535.45" r="1.0" fill="#c8102e"/>
<circle cx="228.30" cy="532.28" r="1.0" fill="#c8102e"/>
<circle cx="239.80" cy="528.48" r="1.0" fill="#c8102e"/>
<circle cx="251.31" cy="532.28" r="1.0" fill="#c8102e"/>
<circle cx="262.81" cy="540.53" r="1.0" fill="#c8102e"/>
<circle cx="274.31" cy="544.96" r="1.0" fill="#c8102e"/>
<circle cx="285.81" cy="551.30" r="1.0" fill="#c8102e"/>
<circle cx="297.31" cy="551.30" r="1.0" fill="#c8102e"/>
<circle cx="203.66" cy="546.23" r="1.0" fill="#1b5798"/>
<circle cx="216.80" cy="536.09" r="1.0" fill="#1b5798"/>
<circle cx="228.30" cy="528.48" r="1.0" fill="#1b5798"/>
<circle cx="239.80" cy="520.87" r="1.0" fill="#1b5798"/>
<circle cx="251.31" cy="530.38" r="1.0" fill="#1b5798"/>
<circle cx="262.81" cy="534.82" r="1.0" fill="#1b5798"/>
<circle cx="274.31" cy="545.60" r="1.0" fill="#1b5798"/>
<circle cx="285.81" cy="533.55" r="1.0" fill="#1b5798"/>
<circle cx="297.31" cy="534.19" r="1.0" fill="#1b5798"/>
<line x1="193.50" y1="502.50" x2="193.50" y2="579.90" stroke="#262626" stroke-width="1.35" />
<line x1="190.80" y1="503.50" x2="193.80" y2="503.50" stroke="#262626" stroke-width="1.0" />
<text x="189.60" y="505.50" font-size="7.1" text-anchor="end" fill="#111111" class="tk">6</text>
<line x1="190.80" y1="528.50" x2="193.80" y2="528.50" stroke="#262626" stroke-width="1.0" />
<text x="189.60" y="530.90" font-size="7.1" text-anchor="end" fill="#111111" class="tk">4</text>
<line x1="190.80" y1="553.50" x2="193.80" y2="553.50" stroke="#262626" stroke-width="1.0" />
<text x="189.60" y="556.20" font-size="7.1" text-anchor="end" fill="#111111" class="tk">2</text>
<line x1="190.80" y1="579.50" x2="193.80" y2="579.50" stroke="#262626" stroke-width="1.0" />
<text x="189.60" y="581.60" font-size="7.1" text-anchor="end" fill="#111111" class="tk">0</text>
<line x1="193.50" y1="579.20" x2="193.50" y2="582.00" stroke="#262626" stroke-width="1.0" />
<text x="193.80" y="589.40" font-size="7.1" text-anchor="middle" fill="#111111" class="tk">0</text>
<line x1="226.50" y1="579.20" x2="226.50" y2="582.00" stroke="#262626" stroke-width="1.0" />
<text x="226.80" y="589.40" font-size="7.1" text-anchor="middle" fill="#111111" class="tk">20</text>
<line x1="260.50" y1="579.20" x2="260.50" y2="582.00" stroke="#262626" stroke-width="1.0" />
<text x="260.70" y="589.40" font-size="7.1" text-anchor="middle" fill="#111111" class="tk">40</text>
<line x1="292.50" y1="579.20" x2="292.50" y2="582.00" stroke="#262626" stroke-width="1.0" />
<text x="292.40" y="589.40" font-size="7.1" text-anchor="middle" fill="#111111" class="tk">60</text>
<text x="248.00" y="598.80" font-size="8.6" text-anchor="middle" fill="#111111" textLength="59.5" lengthAdjust="spacingAndGlyphs">Days post-transplant</text>
<text x="179.20" y="540.60" font-size="9.36" text-anchor="middle" fill="#111111" textLength="58.5" lengthAdjust="spacingAndGlyphs" transform="rotate(-90 179.20 540.60)">Clinical GVHD score</text>
<line x1="311.00" y1="508.50" x2="318.60" y2="508.50" stroke="#c8102e" stroke-width="1.3" />
<circle cx="314.80" cy="508.80" r="1.1" fill="#c8102e"/>
<line x1="311.00" y1="520.50" x2="318.60" y2="520.50" stroke="#1b5798" stroke-width="1.3" />
<circle cx="314.80" cy="521.00" r="1.1" fill="#1b5798"/>
<line x1="311.00" y1="531.50" x2="318.60" y2="531.50" stroke="#3dbb4c" stroke-width="1.3" />
<circle cx="314.80" cy="531.60" r="1.1" fill="#3dbb4c"/>
<text x="320.70" y="511.30" font-size="7.2" text-anchor="start" fill="#111111" textLength="28.4" lengthAdjust="spacingAndGlyphs">WT donor</text>
<text x="320.7" y="523.5" font-size="7.2" fill="#111111"><tspan font-style="italic">Ifnlr1</tspan><tspan font-size="4.4" dy="-2.6" font-style="italic">−/−</tspan><tspan dy="2.6"> donor</tspan></text>
<text x="320.70" y="534.10" font-size="7.2" text-anchor="start" fill="#111111" textLength="32.6" lengthAdjust="spacingAndGlyphs">TCD donor</text>
</svg></body></html>
